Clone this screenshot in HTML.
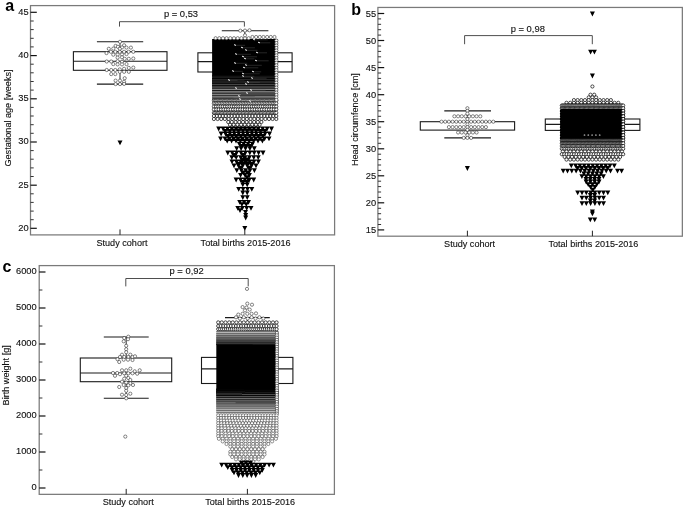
<!DOCTYPE html>
<html lang="en"><head><meta charset="utf-8"><title>Figure</title>
<style>html,body{margin:0;padding:0;background:#fff}svg{display:block;filter:blur(0.4px)}text{font-family:"Liberation Sans",Arial,Helvetica,sans-serif;fill:#111;stroke:#111;stroke-width:0.12px}text.b{stroke:none;fill:#000}</style>
</head><body>
<svg width="685" height="510" viewBox="0 0 685 510">
<rect width="685" height="510" fill="#fff"/>
<g id="panel-a">
<text x="5.2" y="11.4" font-size="16" text-anchor="start" font-weight="bold" class="b">a</text>
<text x="10.8" y="118" font-size="9.1" text-anchor="middle" transform="rotate(-90 10.8 118)">Gestational age [weeks]</text>
<path d="M244.8 30.8L244.8 52.8" stroke="#1a1a1a" stroke-width="0.9" fill="none"/>
<path d="M244.8 72L244.8 99.6" stroke="#1a1a1a" stroke-width="0.9" fill="none"/>
<path d="M221.8 30.8L268.4 30.8" stroke="#1a1a1a" stroke-width="1.1" fill="none"/>
<path d="M221.8 99.6L268.4 99.6" stroke="#1a1a1a" stroke-width="1.1" fill="none"/>
<rect x="197.9" y="52.8" width="94.2" height="19.2" fill="#fff" stroke="#1a1a1a" stroke-width="1.1"/>
<path d="M197.9 61.6L292.1 61.6" stroke="#1a1a1a" stroke-width="1.1" fill="none"/>
<path d="M120 41.7L120 51.7" stroke="#1a1a1a" stroke-width="0.9" fill="none"/>
<path d="M120 70.2L120 84.1" stroke="#1a1a1a" stroke-width="0.9" fill="none"/>
<path d="M96.9 41.7L143.2 41.7" stroke="#1a1a1a" stroke-width="1.1" fill="none"/>
<path d="M96.9 84.1L143.2 84.1" stroke="#1a1a1a" stroke-width="1.1" fill="none"/>
<rect x="73.4" y="51.7" width="93.6" height="18.6" fill="#fff" stroke="#1a1a1a" stroke-width="1.1"/>
<path d="M73.4 61.3L167 61.3" stroke="#1a1a1a" stroke-width="1.1" fill="none"/>
<g fill="#fff" stroke="#333" stroke-width="0.6">
<circle cx="120" cy="41.8" r="1.6"/><circle cx="115.6" cy="45.9" r="1.6"/><circle cx="124.1" cy="45.3" r="1.6"/><circle cx="117.9" cy="46.8" r="1.6"/><circle cx="122" cy="47.4" r="1.6"/><circle cx="126.5" cy="47.6" r="1.6"/><circle cx="130.9" cy="47.6" r="1.6"/><circle cx="108.8" cy="48.8" r="1.6"/><circle cx="113.3" cy="48.6" r="1.6"/><circle cx="119.8" cy="48.8" r="1.6"/><circle cx="106.5" cy="53.1" r="1.6"/><circle cx="110.9" cy="51.8" r="1.6"/><circle cx="115.3" cy="51.8" r="1.6"/><circle cx="119.8" cy="51.8" r="1.6"/><circle cx="124.1" cy="51.8" r="1.6"/><circle cx="128.6" cy="51.8" r="1.6"/><circle cx="133.3" cy="51.8" r="1.6"/><circle cx="113.3" cy="54.7" r="1.6"/><circle cx="117.6" cy="54.7" r="1.6"/><circle cx="122" cy="54.5" r="1.6"/><circle cx="126.5" cy="54.1" r="1.6"/><circle cx="117.6" cy="57.6" r="1.6"/><circle cx="122" cy="57.3" r="1.6"/><circle cx="124.7" cy="58.8" r="1.6"/><circle cx="128.8" cy="58.8" r="1.6"/><circle cx="133.3" cy="58.5" r="1.6"/><circle cx="106.7" cy="61.5" r="1.6"/><circle cx="111.2" cy="61.5" r="1.6"/><circle cx="117.6" cy="61.2" r="1.6"/><circle cx="122" cy="61.8" r="1.6"/><circle cx="113.3" cy="64.1" r="1.6"/><circle cx="117.6" cy="64.4" r="1.6"/><circle cx="122" cy="64.4" r="1.6"/><circle cx="126.5" cy="64.1" r="1.6"/><circle cx="133.3" cy="67.6" r="1.6"/><circle cx="128.8" cy="67.9" r="1.6"/><circle cx="106.7" cy="70" r="1.6"/><circle cx="111.2" cy="70" r="1.6"/><circle cx="115.3" cy="70" r="1.6"/><circle cx="119.8" cy="69.4" r="1.6"/><circle cx="124.1" cy="68.8" r="1.6"/><circle cx="119.8" cy="71.8" r="1.6"/><circle cx="124.1" cy="71.8" r="1.6"/><circle cx="128.8" cy="71.8" r="1.6"/><circle cx="111.2" cy="74.1" r="1.6"/><circle cx="115.3" cy="74.1" r="1.6"/><circle cx="124.7" cy="78.2" r="1.6"/><circle cx="115.6" cy="80.6" r="1.6"/><circle cx="120" cy="80.6" r="1.6"/><circle cx="124.1" cy="81.8" r="1.6"/><circle cx="115.6" cy="84.1" r="1.6"/><circle cx="120" cy="84.1" r="1.6"/><circle cx="124.1" cy="83.9" r="1.6"/>
</g>
<path d="M117.5 140.5h5l-2.5 4.8z" fill="#000"/>
<rect x="212.1" y="39.0" width="65.4" height="37.5" fill="#000"/>
<g><rect x="212.1" y="75.3" width="65.4" height="4.9" fill="#202020"/><rect x="212.1" y="75.3" width="65.4" height="1.1" fill="#000000"/><rect x="212.1" y="77.8" width="65.4" height="4.9" fill="#262626"/><rect x="212.1" y="77.8" width="65.4" height="1.1" fill="#010101"/><rect x="212.1" y="80.2" width="65.4" height="4.9" fill="#363636"/><rect x="212.1" y="80.2" width="65.4" height="1.1" fill="#010101"/><rect x="212.1" y="80.2" width="32.4" height="2.5" fill="#1e1e1e"/><rect x="212.1" y="82.7" width="65.4" height="4.9" fill="#454545"/><rect x="212.1" y="82.7" width="65.4" height="1.1" fill="#030303"/><rect x="212.1" y="85.2" width="65.4" height="4.9" fill="#555555"/><rect x="212.1" y="85.2" width="65.4" height="1.1" fill="#030303"/><rect x="212.1" y="87.6" width="65.4" height="4.9" fill="#838383"/><rect x="212.1" y="87.6" width="65.4" height="1.1" fill="#111111"/><rect x="212.1" y="90.1" width="65.4" height="4.9" fill="#919191"/><rect x="212.1" y="90.1" width="65.4" height="1.1" fill="#0f0f0f"/><rect x="212.1" y="92.6" width="65.4" height="4.9" fill="#828282"/><rect x="212.1" y="92.6" width="65.4" height="1.1" fill="#1a1a1a"/><rect x="240.8" y="92.6" width="36.7" height="2.5" fill="#474747"/><rect x="212.1" y="95.1" width="65.4" height="4.9" fill="#8a8a8a"/><rect x="212.1" y="95.1" width="65.4" height="1.1" fill="#2f2f2f"/><rect x="212.1" y="97.5" width="65.4" height="2.5" fill="#9e9e9e"/><rect x="212.1" y="97.5" width="65.4" height="1.1" fill="#3b3b3b"/><rect x="212.1" y="97.5" width="21.4" height="2.5" fill="#575757"/></g>
<g fill="#fff" stroke="#111" stroke-width="0.75">
<circle cx="213.9" cy="100.6" r="1.6"/><circle cx="215.2" cy="100.6" r="1.6"/><circle cx="216.4" cy="100.6" r="1.6"/><circle cx="217.7" cy="100.6" r="1.6"/><circle cx="219" cy="100.6" r="1.6"/><circle cx="220.3" cy="100.6" r="1.6"/><circle cx="221.5" cy="100.6" r="1.6"/><circle cx="222.8" cy="100.6" r="1.6"/><circle cx="224.1" cy="100.6" r="1.6"/><circle cx="225.4" cy="100.6" r="1.6"/><circle cx="226.6" cy="100.6" r="1.6"/><circle cx="227.9" cy="100.6" r="1.6"/><circle cx="229.2" cy="100.6" r="1.6"/><circle cx="230.5" cy="100.6" r="1.6"/><circle cx="231.7" cy="100.6" r="1.6"/><circle cx="233" cy="100.6" r="1.6"/><circle cx="234.3" cy="100.6" r="1.6"/><circle cx="235.5" cy="100.6" r="1.6"/><circle cx="236.8" cy="100.6" r="1.6"/><circle cx="238.1" cy="100.6" r="1.6"/><circle cx="239.4" cy="100.6" r="1.6"/><circle cx="240.6" cy="100.6" r="1.6"/><circle cx="241.9" cy="100.6" r="1.6"/><circle cx="243.2" cy="100.6" r="1.6"/><circle cx="244.5" cy="100.6" r="1.6"/><circle cx="245.7" cy="100.6" r="1.6"/><circle cx="247" cy="100.6" r="1.6"/><circle cx="248.3" cy="100.6" r="1.6"/><circle cx="249.6" cy="100.6" r="1.6"/><circle cx="250.8" cy="100.6" r="1.6"/><circle cx="252.1" cy="100.6" r="1.6"/><circle cx="253.4" cy="100.6" r="1.6"/><circle cx="254.7" cy="100.6" r="1.6"/><circle cx="255.9" cy="100.6" r="1.6"/><circle cx="257.2" cy="100.6" r="1.6"/><circle cx="258.5" cy="100.6" r="1.6"/><circle cx="259.7" cy="100.6" r="1.6"/><circle cx="261" cy="100.6" r="1.6"/><circle cx="262.3" cy="100.6" r="1.6"/><circle cx="263.6" cy="100.6" r="1.6"/><circle cx="264.8" cy="100.6" r="1.6"/><circle cx="266.1" cy="100.6" r="1.6"/><circle cx="267.4" cy="100.6" r="1.6"/><circle cx="268.7" cy="100.6" r="1.6"/><circle cx="269.9" cy="100.6" r="1.6"/><circle cx="271.2" cy="100.6" r="1.6"/><circle cx="272.5" cy="100.6" r="1.6"/><circle cx="273.8" cy="100.6" r="1.6"/><circle cx="275" cy="100.6" r="1.6"/><circle cx="276.3" cy="100.6" r="1.6"/><circle cx="213.9" cy="103.4" r="1.6"/><circle cx="215.5" cy="103.4" r="1.6"/><circle cx="217.1" cy="103.4" r="1.6"/><circle cx="218.7" cy="103.4" r="1.6"/><circle cx="220.3" cy="103.4" r="1.6"/><circle cx="221.9" cy="103.4" r="1.6"/><circle cx="223.5" cy="103.4" r="1.6"/><circle cx="225.1" cy="103.4" r="1.6"/><circle cx="226.7" cy="103.4" r="1.6"/><circle cx="228.3" cy="103.4" r="1.6"/><circle cx="229.9" cy="103.4" r="1.6"/><circle cx="231.5" cy="103.4" r="1.6"/><circle cx="233.1" cy="103.4" r="1.6"/><circle cx="234.7" cy="103.4" r="1.6"/><circle cx="236.3" cy="103.4" r="1.6"/><circle cx="237.9" cy="103.4" r="1.6"/><circle cx="239.5" cy="103.4" r="1.6"/><circle cx="241.1" cy="103.4" r="1.6"/><circle cx="242.7" cy="103.4" r="1.6"/><circle cx="244.3" cy="103.4" r="1.6"/><circle cx="245.9" cy="103.4" r="1.6"/><circle cx="247.5" cy="103.4" r="1.6"/><circle cx="249.1" cy="103.4" r="1.6"/><circle cx="250.7" cy="103.4" r="1.6"/><circle cx="252.3" cy="103.4" r="1.6"/><circle cx="253.9" cy="103.4" r="1.6"/><circle cx="255.5" cy="103.4" r="1.6"/><circle cx="257.1" cy="103.4" r="1.6"/><circle cx="258.7" cy="103.4" r="1.6"/><circle cx="260.3" cy="103.4" r="1.6"/><circle cx="261.9" cy="103.4" r="1.6"/><circle cx="263.5" cy="103.4" r="1.6"/><circle cx="265.1" cy="103.4" r="1.6"/><circle cx="266.7" cy="103.4" r="1.6"/><circle cx="268.3" cy="103.4" r="1.6"/><circle cx="269.9" cy="103.4" r="1.6"/><circle cx="271.5" cy="103.4" r="1.6"/><circle cx="273.1" cy="103.4" r="1.6"/><circle cx="274.7" cy="103.4" r="1.6"/><circle cx="276.3" cy="103.4" r="1.6"/><circle cx="213.9" cy="106.6" r="1.6"/><circle cx="216.1" cy="106.6" r="1.6"/><circle cx="218.4" cy="106.6" r="1.6"/><circle cx="220.6" cy="106.6" r="1.6"/><circle cx="222.8" cy="106.6" r="1.6"/><circle cx="225" cy="106.6" r="1.6"/><circle cx="227.3" cy="106.6" r="1.6"/><circle cx="229.5" cy="106.6" r="1.6"/><circle cx="231.7" cy="106.6" r="1.6"/><circle cx="234" cy="106.6" r="1.6"/><circle cx="236.2" cy="106.6" r="1.6"/><circle cx="238.4" cy="106.6" r="1.6"/><circle cx="240.6" cy="106.6" r="1.6"/><circle cx="242.9" cy="106.6" r="1.6"/><circle cx="245.1" cy="106.6" r="1.6"/><circle cx="247.3" cy="106.6" r="1.6"/><circle cx="249.6" cy="106.6" r="1.6"/><circle cx="251.8" cy="106.6" r="1.6"/><circle cx="254" cy="106.6" r="1.6"/><circle cx="256.2" cy="106.6" r="1.6"/><circle cx="258.5" cy="106.6" r="1.6"/><circle cx="260.7" cy="106.6" r="1.6"/><circle cx="262.9" cy="106.6" r="1.6"/><circle cx="265.2" cy="106.6" r="1.6"/><circle cx="267.4" cy="106.6" r="1.6"/><circle cx="269.6" cy="106.6" r="1.6"/><circle cx="271.8" cy="106.6" r="1.6"/><circle cx="274.1" cy="106.6" r="1.6"/><circle cx="276.3" cy="106.6" r="1.6"/><circle cx="213.9" cy="109.5" r="1.6"/><circle cx="216.3" cy="109.5" r="1.6"/><circle cx="218.7" cy="109.5" r="1.6"/><circle cx="221.1" cy="109.5" r="1.6"/><circle cx="223.5" cy="109.5" r="1.6"/><circle cx="225.9" cy="109.5" r="1.6"/><circle cx="228.3" cy="109.5" r="1.6"/><circle cx="230.7" cy="109.5" r="1.6"/><circle cx="233.1" cy="109.5" r="1.6"/><circle cx="235.5" cy="109.5" r="1.6"/><circle cx="237.9" cy="109.5" r="1.6"/><circle cx="240.3" cy="109.5" r="1.6"/><circle cx="242.7" cy="109.5" r="1.6"/><circle cx="245.1" cy="109.5" r="1.6"/><circle cx="247.5" cy="109.5" r="1.6"/><circle cx="249.9" cy="109.5" r="1.6"/><circle cx="252.3" cy="109.5" r="1.6"/><circle cx="254.7" cy="109.5" r="1.6"/><circle cx="257.1" cy="109.5" r="1.6"/><circle cx="259.5" cy="109.5" r="1.6"/><circle cx="261.9" cy="109.5" r="1.6"/><circle cx="264.3" cy="109.5" r="1.6"/><circle cx="266.7" cy="109.5" r="1.6"/><circle cx="269.1" cy="109.5" r="1.6"/><circle cx="271.5" cy="109.5" r="1.6"/><circle cx="273.9" cy="109.5" r="1.6"/><circle cx="276.3" cy="109.5" r="1.6"/><circle cx="213.9" cy="112.8" r="1.6"/><circle cx="215.3" cy="112.8" r="1.6"/><circle cx="216.7" cy="112.8" r="1.6"/><circle cx="218.1" cy="112.8" r="1.6"/><circle cx="219.4" cy="112.8" r="1.6"/><circle cx="220.8" cy="112.8" r="1.6"/><circle cx="222.2" cy="112.8" r="1.6"/><circle cx="223.6" cy="112.8" r="1.6"/><circle cx="225" cy="112.8" r="1.6"/><circle cx="226.4" cy="112.8" r="1.6"/><circle cx="227.8" cy="112.8" r="1.6"/><circle cx="229.2" cy="112.8" r="1.6"/><circle cx="230.5" cy="112.8" r="1.6"/><circle cx="231.9" cy="112.8" r="1.6"/><circle cx="233.3" cy="112.8" r="1.6"/><circle cx="234.7" cy="112.8" r="1.6"/><circle cx="236.1" cy="112.8" r="1.6"/><circle cx="237.5" cy="112.8" r="1.6"/><circle cx="238.9" cy="112.8" r="1.6"/><circle cx="240.2" cy="112.8" r="1.6"/><circle cx="241.6" cy="112.8" r="1.6"/><circle cx="243" cy="112.8" r="1.6"/><circle cx="244.4" cy="112.8" r="1.6"/><circle cx="245.8" cy="112.8" r="1.6"/><circle cx="247.2" cy="112.8" r="1.6"/><circle cx="248.6" cy="112.8" r="1.6"/><circle cx="250" cy="112.8" r="1.6"/><circle cx="251.3" cy="112.8" r="1.6"/><circle cx="252.7" cy="112.8" r="1.6"/><circle cx="254.1" cy="112.8" r="1.6"/><circle cx="255.5" cy="112.8" r="1.6"/><circle cx="256.9" cy="112.8" r="1.6"/><circle cx="258.3" cy="112.8" r="1.6"/><circle cx="259.7" cy="112.8" r="1.6"/><circle cx="261" cy="112.8" r="1.6"/><circle cx="262.4" cy="112.8" r="1.6"/><circle cx="263.8" cy="112.8" r="1.6"/><circle cx="265.2" cy="112.8" r="1.6"/><circle cx="266.6" cy="112.8" r="1.6"/><circle cx="268" cy="112.8" r="1.6"/><circle cx="269.4" cy="112.8" r="1.6"/><circle cx="270.8" cy="112.8" r="1.6"/><circle cx="272.1" cy="112.8" r="1.6"/><circle cx="273.5" cy="112.8" r="1.6"/><circle cx="274.9" cy="112.8" r="1.6"/><circle cx="276.3" cy="112.8" r="1.6"/><circle cx="213.9" cy="116" r="1.6"/><circle cx="216.9" cy="116" r="1.6"/><circle cx="219.8" cy="116" r="1.6"/><circle cx="222.8" cy="116" r="1.6"/><circle cx="225.8" cy="116" r="1.6"/><circle cx="228.8" cy="116" r="1.6"/><circle cx="231.7" cy="116" r="1.6"/><circle cx="234.7" cy="116" r="1.6"/><circle cx="237.7" cy="116" r="1.6"/><circle cx="240.6" cy="116" r="1.6"/><circle cx="243.6" cy="116" r="1.6"/><circle cx="246.6" cy="116" r="1.6"/><circle cx="249.6" cy="116" r="1.6"/><circle cx="252.5" cy="116" r="1.6"/><circle cx="255.5" cy="116" r="1.6"/><circle cx="258.5" cy="116" r="1.6"/><circle cx="261.4" cy="116" r="1.6"/><circle cx="264.4" cy="116" r="1.6"/><circle cx="267.4" cy="116" r="1.6"/><circle cx="270.4" cy="116" r="1.6"/><circle cx="273.3" cy="116" r="1.6"/><circle cx="276.3" cy="116" r="1.6"/><circle cx="213.9" cy="119" r="1.6"/><circle cx="217.6" cy="119" r="1.6"/><circle cx="221.2" cy="119" r="1.6"/><circle cx="224.9" cy="119" r="1.6"/><circle cx="228.6" cy="119" r="1.6"/><circle cx="232.3" cy="119" r="1.6"/><circle cx="235.9" cy="119" r="1.6"/><circle cx="239.6" cy="119" r="1.6"/><circle cx="243.3" cy="119" r="1.6"/><circle cx="246.9" cy="119" r="1.6"/><circle cx="250.6" cy="119" r="1.6"/><circle cx="254.3" cy="119" r="1.6"/><circle cx="257.9" cy="119" r="1.6"/><circle cx="261.6" cy="119" r="1.6"/><circle cx="265.3" cy="119" r="1.6"/><circle cx="269" cy="119" r="1.6"/><circle cx="272.6" cy="119" r="1.6"/><circle cx="276.3" cy="119" r="1.6"/><circle cx="228.2" cy="122" r="1.6"/><circle cx="231.8" cy="122" r="1.6"/><circle cx="235.6" cy="122" r="1.6"/><circle cx="239.2" cy="122" r="1.6"/><circle cx="243" cy="122" r="1.6"/><circle cx="246.7" cy="122" r="1.6"/><circle cx="250.4" cy="122" r="1.6"/><circle cx="254.1" cy="122" r="1.6"/><circle cx="257.8" cy="122" r="1.6"/><circle cx="261.4" cy="122" r="1.6"/><circle cx="230" cy="124.8" r="1.6"/><circle cx="233.7" cy="124.8" r="1.6"/><circle cx="237.4" cy="124.8" r="1.6"/><circle cx="241.1" cy="124.8" r="1.6"/><circle cx="244.8" cy="124.8" r="1.6"/><circle cx="248.5" cy="124.8" r="1.6"/><circle cx="252.2" cy="124.8" r="1.6"/><circle cx="255.9" cy="124.8" r="1.6"/><circle cx="259.6" cy="124.8" r="1.6"/><circle cx="231.9" cy="127.3" r="1.6"/><circle cx="235.6" cy="127.3" r="1.6"/><circle cx="239.3" cy="127.3" r="1.6"/><circle cx="243" cy="127.3" r="1.6"/><circle cx="246.7" cy="127.3" r="1.6"/><circle cx="250.4" cy="127.3" r="1.6"/><circle cx="254.1" cy="127.3" r="1.6"/><circle cx="257.8" cy="127.3" r="1.6"/>
</g>
<g fill="#fff" stroke="#333" stroke-width="0.6">
<circle cx="276.4" cy="40.6" r="1.6"/><circle cx="276.4" cy="43.1" r="1.6"/><circle cx="276.4" cy="45.5" r="1.6"/><circle cx="276.4" cy="48" r="1.6"/><circle cx="276.4" cy="50.5" r="1.6"/><circle cx="276.4" cy="53" r="1.6"/><circle cx="276.4" cy="55.4" r="1.6"/><circle cx="276.4" cy="57.9" r="1.6"/><circle cx="276.4" cy="60.4" r="1.6"/><circle cx="276.4" cy="62.8" r="1.6"/><circle cx="276.4" cy="65.3" r="1.6"/><circle cx="276.4" cy="67.8" r="1.6"/><circle cx="276.4" cy="70.2" r="1.6"/><circle cx="276.4" cy="72.7" r="1.6"/><circle cx="276.4" cy="75.2" r="1.6"/><circle cx="276.4" cy="77.7" r="1.6"/><circle cx="276.4" cy="80.1" r="1.6"/><circle cx="276.4" cy="82.6" r="1.6"/><circle cx="276.4" cy="85.1" r="1.6"/><circle cx="276.4" cy="87.5" r="1.6"/><circle cx="276.4" cy="90" r="1.6"/><circle cx="276.4" cy="92.5" r="1.6"/><circle cx="276.4" cy="94.9" r="1.6"/><circle cx="276.4" cy="97.4" r="1.6"/><circle cx="276.4" cy="99.9" r="1.6"/>
</g>
<g fill="#fff" stroke="#333" stroke-width="0.6">
<circle cx="215.6" cy="38.2" r="1.6"/><circle cx="219.3" cy="38.2" r="1.6"/><circle cx="223" cy="38.2" r="1.6"/><circle cx="226.6" cy="38.2" r="1.6"/><circle cx="230.3" cy="38.2" r="1.6"/><circle cx="234" cy="38.2" r="1.6"/><circle cx="237.7" cy="38.2" r="1.6"/><circle cx="241.4" cy="38.2" r="1.6"/><circle cx="245" cy="38.2" r="1.6"/><circle cx="248.7" cy="38.2" r="1.6"/><circle cx="252.4" cy="37" r="1.6"/><circle cx="256.1" cy="37" r="1.6"/><circle cx="259.8" cy="37" r="1.6"/><circle cx="263.4" cy="37" r="1.6"/><circle cx="267.1" cy="37" r="1.6"/><circle cx="270.8" cy="37" r="1.6"/><circle cx="274.5" cy="37" r="1.6"/><circle cx="245" cy="35.3" r="1.6"/><circle cx="240.3" cy="30.7" r="1.6"/><circle cx="245" cy="30.6" r="1.6"/><circle cx="249.5" cy="30.3" r="1.6"/>
</g>
<g stroke="#4a4a4a" stroke-width="0.5"><path d="M255 39.8h12.8"/><path d="M260 42.8h10.3"/><path d="M236 45.3h9.1"/><path d="M243 47.8h11.9"/><path d="M247 50.3h10.5"/><path d="M258 52.8h9"/><path d="M237 54.3h13.9"/><path d="M244 56.8h13"/><path d="M246 58.8h8.4"/><path d="M257 60.8h11.7"/><path d="M236 63.3h11.3"/><path d="M247 65.3h14.8"/><path d="M245 67.8h13.3"/><path d="M234 71.3h8.9"/><path d="M244 73.8h15.8"/><path d="M254 71.8h7.2"/><path d="M244 76.3h10.2"/><path d="M253 78.3h13.6"/><path d="M230 80.3h7.5"/><path d="M249 82.3h10.9"/><path d="M247 84.3h6.4"/><path d="M237 88.3h12.7"/><path d="M252 90.3h13.6"/><path d="M248 93.3h11.7"/><path d="M240 96.3h14.8"/><path d="M241 99.3h9.1"/><path d="M251 101.3h13"/></g>
<g fill="#fff" stroke="none"><ellipse cx="254" cy="39.5" rx="1.1" ry="0.6" transform="rotate(25 254 39.5)"/><ellipse cx="259" cy="42.5" rx="1.1" ry="0.6" transform="rotate(25 259 42.5)"/><ellipse cx="235" cy="45" rx="1.1" ry="0.6" transform="rotate(25 235 45)"/><ellipse cx="242" cy="47.5" rx="1.1" ry="0.6" transform="rotate(25 242 47.5)"/><ellipse cx="246" cy="50" rx="1.1" ry="0.6" transform="rotate(25 246 50)"/><ellipse cx="257" cy="52.5" rx="1.1" ry="0.6" transform="rotate(25 257 52.5)"/><ellipse cx="236" cy="54" rx="1.1" ry="0.6" transform="rotate(25 236 54)"/><ellipse cx="243" cy="56.5" rx="1.1" ry="0.6" transform="rotate(25 243 56.5)"/><ellipse cx="245" cy="58.5" rx="1.1" ry="0.6" transform="rotate(25 245 58.5)"/><ellipse cx="256" cy="60.5" rx="1.1" ry="0.6" transform="rotate(25 256 60.5)"/><ellipse cx="235" cy="63" rx="1.1" ry="0.6" transform="rotate(25 235 63)"/><ellipse cx="246" cy="65" rx="1.1" ry="0.6" transform="rotate(25 246 65)"/><ellipse cx="244" cy="67.5" rx="1.1" ry="0.6" transform="rotate(25 244 67.5)"/><ellipse cx="233" cy="71" rx="1.1" ry="0.6" transform="rotate(25 233 71)"/><ellipse cx="243" cy="73.5" rx="1.1" ry="0.6" transform="rotate(25 243 73.5)"/><ellipse cx="253" cy="71.5" rx="1.1" ry="0.6" transform="rotate(25 253 71.5)"/><ellipse cx="243" cy="76" rx="1.1" ry="0.6" transform="rotate(25 243 76)"/><ellipse cx="252" cy="78" rx="1.1" ry="0.6" transform="rotate(25 252 78)"/><ellipse cx="229" cy="80" rx="1.1" ry="0.6" transform="rotate(25 229 80)"/><ellipse cx="248" cy="82" rx="1.1" ry="0.6" transform="rotate(25 248 82)"/><ellipse cx="246" cy="84" rx="1.1" ry="0.6" transform="rotate(25 246 84)"/><ellipse cx="236" cy="88" rx="1.1" ry="0.6" transform="rotate(25 236 88)"/><ellipse cx="251" cy="90" rx="1.1" ry="0.6" transform="rotate(25 251 90)"/><ellipse cx="247" cy="93" rx="1.1" ry="0.6" transform="rotate(25 247 93)"/><ellipse cx="239" cy="96" rx="1.1" ry="0.6" transform="rotate(25 239 96)"/><ellipse cx="240" cy="99" rx="1.1" ry="0.6" transform="rotate(25 240 99)"/><ellipse cx="250" cy="101" rx="1.1" ry="0.6" transform="rotate(25 250 101)"/></g>
<path d="M216.2 126.6h5l-2.5 4.8zM220.6 126.6h5l-2.5 4.8zM225 126.6h5l-2.5 4.8zM229.4 126.6h5l-2.5 4.8zM233.8 126.6h5l-2.5 4.8zM238.2 126.6h5l-2.5 4.8zM242.6 126.6h5l-2.5 4.8zM247 126.6h5l-2.5 4.8zM251.4 126.6h5l-2.5 4.8zM255.8 126.6h5l-2.5 4.8zM260.2 126.6h5l-2.5 4.8zM264.6 126.6h5l-2.5 4.8zM269 126.6h5l-2.5 4.8zM222.8 128.9h5l-2.5 4.8zM227.2 128.9h5l-2.5 4.8zM231.6 128.9h5l-2.5 4.8zM236 128.9h5l-2.5 4.8zM240.4 128.9h5l-2.5 4.8zM244.8 128.9h5l-2.5 4.8zM249.2 128.9h5l-2.5 4.8zM253.6 128.9h5l-2.5 4.8zM258 128.9h5l-2.5 4.8zM262.4 128.9h5l-2.5 4.8zM218.6 131.6h5l-2.5 4.8zM223 131.6h5l-2.5 4.8zM227.4 131.6h5l-2.5 4.8zM231.8 131.6h5l-2.5 4.8zM236.2 131.6h5l-2.5 4.8zM240.6 131.6h5l-2.5 4.8zM245 131.6h5l-2.5 4.8zM249.4 131.6h5l-2.5 4.8zM253.8 131.6h5l-2.5 4.8zM258.2 131.6h5l-2.5 4.8zM262.6 131.6h5l-2.5 4.8zM267 131.6h5l-2.5 4.8zM225.2 133.9h5l-2.5 4.8zM229.6 133.9h5l-2.5 4.8zM233.9 133.9h5l-2.5 4.8zM238.3 133.9h5l-2.5 4.8zM242.8 133.9h5l-2.5 4.8zM247.2 133.9h5l-2.5 4.8zM251.6 133.9h5l-2.5 4.8zM255.9 133.9h5l-2.5 4.8zM260.4 133.9h5l-2.5 4.8zM218.1 136.4h5l-2.5 4.8zM222.5 136.4h5l-2.5 4.8zM226.9 136.4h5l-2.5 4.8zM231.3 136.4h5l-2.5 4.8zM235.7 136.4h5l-2.5 4.8zM240.1 136.4h5l-2.5 4.8zM244.5 136.4h5l-2.5 4.8zM248.9 136.4h5l-2.5 4.8zM253.3 136.4h5l-2.5 4.8zM257.7 136.4h5l-2.5 4.8zM262.1 136.4h5l-2.5 4.8zM266.5 136.4h5l-2.5 4.8zM224.7 138.7h5l-2.5 4.8zM229.1 138.7h5l-2.5 4.8zM233.5 138.7h5l-2.5 4.8zM237.9 138.7h5l-2.5 4.8zM242.3 138.7h5l-2.5 4.8zM246.7 138.7h5l-2.5 4.8zM251.1 138.7h5l-2.5 4.8zM255.5 138.7h5l-2.5 4.8zM259.9 138.7h5l-2.5 4.8zM236.8 141.8h5l-2.5 4.8zM241.2 141.8h5l-2.5 4.8zM245.6 141.8h5l-2.5 4.8zM250 141.8h5l-2.5 4.8zM239 144.1h5l-2.5 4.8zM243.4 144.1h5l-2.5 4.8zM247.8 144.1h5l-2.5 4.8zM234.2 146.2h5l-2.5 4.8zM238.6 146.2h5l-2.5 4.8zM243 146.2h5l-2.5 4.8zM247.4 146.2h5l-2.5 4.8zM251.8 146.2h5l-2.5 4.8zM225.3 150.6h5l-2.5 4.8zM229.7 150.6h5l-2.5 4.8zM234.1 150.6h5l-2.5 4.8zM238.5 150.6h5l-2.5 4.8zM242.9 150.6h5l-2.5 4.8zM247.3 150.6h5l-2.5 4.8zM251.7 150.6h5l-2.5 4.8zM256.1 150.6h5l-2.5 4.8zM260.5 150.6h5l-2.5 4.8zM231.9 152.9h5l-2.5 4.8zM240.7 152.9h5l-2.5 4.8zM229.3 155.3h5l-2.5 4.8zM233.7 155.3h5l-2.5 4.8zM238.1 155.3h5l-2.5 4.8zM242.5 155.3h5l-2.5 4.8zM246.9 155.3h5l-2.5 4.8zM251.3 155.3h5l-2.5 4.8zM255.7 155.3h5l-2.5 4.8zM240.3 157.6h5l-2.5 4.8zM244.7 157.6h5l-2.5 4.8zM229.5 159.5h5l-2.5 4.8zM233.9 159.5h5l-2.5 4.8zM238.3 159.5h5l-2.5 4.8zM242.7 159.5h5l-2.5 4.8zM247.1 159.5h5l-2.5 4.8zM251.5 159.5h5l-2.5 4.8zM255.9 159.5h5l-2.5 4.8zM236.1 161.8h5l-2.5 4.8zM240.5 161.8h5l-2.5 4.8zM244.8 161.8h5l-2.5 4.8zM249.2 161.8h5l-2.5 4.8zM231.5 163.5h5l-2.5 4.8zM235.9 163.5h5l-2.5 4.8zM240.3 163.5h5l-2.5 4.8zM244.7 163.5h5l-2.5 4.8zM249.1 163.5h5l-2.5 4.8zM253.5 163.5h5l-2.5 4.8zM238.1 165.8h5l-2.5 4.8zM246.9 165.8h5l-2.5 4.8zM234.3 168.2h5l-2.5 4.8zM238.8 168.2h5l-2.5 4.8zM243.2 168.2h5l-2.5 4.8zM247.5 168.2h5l-2.5 4.8zM251.9 168.2h5l-2.5 4.8zM240.9 170.5h5l-2.5 4.8zM245.3 170.5h5l-2.5 4.8zM238.1 173h5l-2.5 4.8zM242.5 173h5l-2.5 4.8zM246.9 173h5l-2.5 4.8zM244.7 175.3h5l-2.5 4.8zM233.6 177.6h5l-2.5 4.8zM238 177.6h5l-2.5 4.8zM242.4 177.6h5l-2.5 4.8zM246.8 177.6h5l-2.5 4.8zM251.2 177.6h5l-2.5 4.8zM240.2 179.9h5l-2.5 4.8zM244.6 179.9h5l-2.5 4.8zM240.3 182.4h5l-2.5 4.8zM244.7 182.4h5l-2.5 4.8zM236.2 187h5l-2.5 4.8zM240.6 187h5l-2.5 4.8zM245 187h5l-2.5 4.8zM249.3 187h5l-2.5 4.8zM240.3 190.6h5l-2.5 4.8zM244.7 190.6h5l-2.5 4.8zM240.3 195.3h5l-2.5 4.8zM244.7 195.3h5l-2.5 4.8zM237.2 200h5l-2.5 4.8zM241.6 200h5l-2.5 4.8zM246 200h5l-2.5 4.8zM239.4 202.3h5l-2.5 4.8zM243.8 202.3h5l-2.5 4.8zM235.3 205.9h5l-2.5 4.8zM239.8 205.9h5l-2.5 4.8zM244.2 205.9h5l-2.5 4.8zM248.5 205.9h5l-2.5 4.8zM237.5 208.2h5l-2.5 4.8zM243 210h5l-2.5 4.8zM243.2 213h5l-2.5 4.8zM243.2 215.6h5l-2.5 4.8zM242.3 226h5l-2.5 4.8z" fill="#000"/>
<path d="M119.5 26.6V21.7H244.4V26.6" fill="none" stroke="#3a3a3a" stroke-width="0.9"/>
<text x="181" y="17.2" font-size="9.4" text-anchor="middle">p = 0,53</text>
<rect x="30.5" y="5.6" width="304.1" height="229.3" fill="none" stroke="#7a7a7a" stroke-width="1.25"/>
<path d="M30.5 219.7L33.7 219.7" stroke="#333" stroke-width="1.0" fill="none"/>
<path d="M30.5 211.1L33.7 211.1" stroke="#333" stroke-width="1.0" fill="none"/>
<path d="M30.5 202.4L33.7 202.4" stroke="#333" stroke-width="1.0" fill="none"/>
<path d="M30.5 193.8L33.7 193.8" stroke="#333" stroke-width="1.0" fill="none"/>
<path d="M30.5 176.5L33.7 176.5" stroke="#333" stroke-width="1.0" fill="none"/>
<path d="M30.5 167.9L33.7 167.9" stroke="#333" stroke-width="1.0" fill="none"/>
<path d="M30.5 159.2L33.7 159.2" stroke="#333" stroke-width="1.0" fill="none"/>
<path d="M30.5 150.6L33.7 150.6" stroke="#333" stroke-width="1.0" fill="none"/>
<path d="M30.5 133.3L33.7 133.3" stroke="#333" stroke-width="1.0" fill="none"/>
<path d="M30.5 124.7L33.7 124.7" stroke="#333" stroke-width="1.0" fill="none"/>
<path d="M30.5 116L33.7 116" stroke="#333" stroke-width="1.0" fill="none"/>
<path d="M30.5 107.4L33.7 107.4" stroke="#333" stroke-width="1.0" fill="none"/>
<path d="M30.5 90.1L33.7 90.1" stroke="#333" stroke-width="1.0" fill="none"/>
<path d="M30.5 81.5L33.7 81.5" stroke="#333" stroke-width="1.0" fill="none"/>
<path d="M30.5 72.8L33.7 72.8" stroke="#333" stroke-width="1.0" fill="none"/>
<path d="M30.5 64.2L33.7 64.2" stroke="#333" stroke-width="1.0" fill="none"/>
<path d="M30.5 46.9L33.7 46.9" stroke="#333" stroke-width="1.0" fill="none"/>
<path d="M30.5 38.3L33.7 38.3" stroke="#333" stroke-width="1.0" fill="none"/>
<path d="M30.5 29.6L33.7 29.6" stroke="#333" stroke-width="1.0" fill="none"/>
<path d="M30.5 21L33.7 21" stroke="#333" stroke-width="1.0" fill="none"/>
<path d="M30.5 12.3L36.8 12.3" stroke="#111" stroke-width="1.2" fill="none"/>
<text x="28.6" y="14.6" font-size="9.3" text-anchor="end">45</text>
<path d="M30.5 55.6L36.8 55.6" stroke="#111" stroke-width="1.2" fill="none"/>
<text x="28.6" y="57.9" font-size="9.3" text-anchor="end">40</text>
<path d="M30.5 98.8L36.8 98.8" stroke="#111" stroke-width="1.2" fill="none"/>
<text x="28.6" y="101" font-size="9.3" text-anchor="end">35</text>
<path d="M30.5 142L36.8 142" stroke="#111" stroke-width="1.2" fill="none"/>
<text x="28.6" y="144.3" font-size="9.3" text-anchor="end">30</text>
<path d="M30.5 185.2L36.8 185.2" stroke="#111" stroke-width="1.2" fill="none"/>
<text x="28.6" y="187.5" font-size="9.3" text-anchor="end">25</text>
<path d="M30.5 228.3L36.8 228.3" stroke="#111" stroke-width="1.2" fill="none"/>
<text x="28.6" y="230.7" font-size="9.3" text-anchor="end">20</text>
<path d="M120 234.9L120 229.4" stroke="#222" stroke-width="1" fill="none"/>
<path d="M244.8 234.9L244.8 229.4" stroke="#222" stroke-width="1" fill="none"/>
<text x="122" y="245.5" font-size="9.1" text-anchor="middle">Study cohort</text>
<text x="245.6" y="245.5" font-size="9.1" text-anchor="middle">Total births 2015-2016</text>
</g>
<g id="panel-b">
<text x="351.2" y="14.7" font-size="16" text-anchor="start" font-weight="bold" class="b">b</text>
<text x="358.3" y="119.6" font-size="9.1" text-anchor="middle" transform="rotate(-90 358.3 119.6)">Head circumfence [cm]</text>
<path d="M592.4 102.8L592.4 119" stroke="#1a1a1a" stroke-width="0.9" fill="none"/>
<path d="M592.4 130.4L592.4 146" stroke="#1a1a1a" stroke-width="0.9" fill="none"/>
<path d="M569 102.8L616 102.8" stroke="#1a1a1a" stroke-width="1.1" fill="none"/>
<path d="M569 146L616 146" stroke="#1a1a1a" stroke-width="1.1" fill="none"/>
<rect x="545.3" y="119" width="94.6" height="11.4" fill="#fff" stroke="#1a1a1a" stroke-width="1.1"/>
<path d="M545.3 124.4L639.9 124.4" stroke="#1a1a1a" stroke-width="1.1" fill="none"/>
<path d="M467.4 110.9L467.4 121.7" stroke="#1a1a1a" stroke-width="0.9" fill="none"/>
<path d="M467.4 130.1L467.4 137.9" stroke="#1a1a1a" stroke-width="0.9" fill="none"/>
<path d="M444.3 110.9L491 110.9" stroke="#1a1a1a" stroke-width="1.1" fill="none"/>
<path d="M444.3 137.9L491 137.9" stroke="#1a1a1a" stroke-width="1.1" fill="none"/>
<rect x="420.3" y="121.7" width="94.3" height="8.4" fill="#fff" stroke="#1a1a1a" stroke-width="1.1"/>
<g fill="#fff" stroke="#333" stroke-width="0.6">
<circle cx="467.4" cy="108.2" r="1.6"/><circle cx="467.4" cy="110.9" r="1.6"/><circle cx="454.4" cy="116.3" r="1.6"/><circle cx="458.1" cy="116.3" r="1.6"/><circle cx="461.8" cy="116.3" r="1.6"/><circle cx="465.6" cy="116.3" r="1.6"/><circle cx="469.2" cy="116.3" r="1.6"/><circle cx="472.9" cy="116.3" r="1.6"/><circle cx="476.6" cy="116.3" r="1.6"/><circle cx="480.3" cy="116.3" r="1.6"/><circle cx="441.5" cy="121.7" r="1.6"/><circle cx="445.2" cy="121.7" r="1.6"/><circle cx="448.9" cy="121.7" r="1.6"/><circle cx="452.6" cy="121.7" r="1.6"/><circle cx="456.3" cy="121.7" r="1.6"/><circle cx="460" cy="121.7" r="1.6"/><circle cx="463.7" cy="121.7" r="1.6"/><circle cx="467.4" cy="121.7" r="1.6"/><circle cx="471.1" cy="121.7" r="1.6"/><circle cx="474.8" cy="121.7" r="1.6"/><circle cx="478.5" cy="121.7" r="1.6"/><circle cx="482.2" cy="121.7" r="1.6"/><circle cx="485.9" cy="121.7" r="1.6"/><circle cx="489.6" cy="121.7" r="1.6"/><circle cx="493.3" cy="121.7" r="1.6"/><circle cx="467.4" cy="124.4" r="1.6"/><circle cx="448.9" cy="127.1" r="1.6"/><circle cx="452.6" cy="127.1" r="1.6"/><circle cx="456.3" cy="127.1" r="1.6"/><circle cx="460" cy="127.1" r="1.6"/><circle cx="463.7" cy="127.1" r="1.6"/><circle cx="467.4" cy="127.1" r="1.6"/><circle cx="471.1" cy="127.1" r="1.6"/><circle cx="474.8" cy="127.1" r="1.6"/><circle cx="478.5" cy="127.1" r="1.6"/><circle cx="482.2" cy="127.1" r="1.6"/><circle cx="485.9" cy="127.1" r="1.6"/><circle cx="467.4" cy="129.8" r="1.6"/><circle cx="458.1" cy="132.5" r="1.6"/><circle cx="461.8" cy="132.5" r="1.6"/><circle cx="465.5" cy="132.5" r="1.6"/><circle cx="469.2" cy="132.5" r="1.6"/><circle cx="472.9" cy="132.5" r="1.6"/><circle cx="476.6" cy="132.5" r="1.6"/><circle cx="467.4" cy="135.2" r="1.6"/><circle cx="463.7" cy="137.9" r="1.6"/><circle cx="467.4" cy="137.9" r="1.6"/><circle cx="471.1" cy="137.9" r="1.6"/><circle cx="467.4" cy="113.6" r="1.6"/><circle cx="467.4" cy="119" r="1.6"/>
</g>
<path d="M464.9 166.1h5l-2.5 4.8z" fill="#000"/>
<g fill="#fff" stroke="#111" stroke-width="0.75">
<circle cx="592.4" cy="86.5" r="1.6"/><circle cx="590.5" cy="94.7" r="1.6"/><circle cx="594.2" cy="94.7" r="1.6"/><circle cx="588.7" cy="97.4" r="1.6"/><circle cx="592.4" cy="97.4" r="1.6"/><circle cx="596.1" cy="97.4" r="1.6"/><circle cx="573.9" cy="100.1" r="1.6"/><circle cx="577.6" cy="100.1" r="1.6"/><circle cx="581.3" cy="100.1" r="1.6"/><circle cx="585" cy="100.1" r="1.6"/><circle cx="588.7" cy="100.1" r="1.6"/><circle cx="592.4" cy="100.1" r="1.6"/><circle cx="596.1" cy="100.1" r="1.6"/><circle cx="599.8" cy="100.1" r="1.6"/><circle cx="603.5" cy="100.1" r="1.6"/><circle cx="607.2" cy="100.1" r="1.6"/><circle cx="610.9" cy="100.1" r="1.6"/><circle cx="566.5" cy="102.8" r="1.6"/><circle cx="570.2" cy="102.8" r="1.6"/><circle cx="573.9" cy="102.8" r="1.6"/><circle cx="577.6" cy="102.8" r="1.6"/><circle cx="581.3" cy="102.8" r="1.6"/><circle cx="585" cy="102.8" r="1.6"/><circle cx="588.7" cy="102.8" r="1.6"/><circle cx="592.4" cy="102.8" r="1.6"/><circle cx="596.1" cy="102.8" r="1.6"/><circle cx="599.8" cy="102.8" r="1.6"/><circle cx="603.5" cy="102.8" r="1.6"/><circle cx="607.2" cy="102.8" r="1.6"/><circle cx="610.9" cy="102.8" r="1.6"/><circle cx="614.6" cy="102.8" r="1.6"/><circle cx="618.3" cy="102.8" r="1.6"/><circle cx="561.8" cy="105.5" r="1.6"/><circle cx="562.8" cy="105.5" r="1.6"/><circle cx="563.9" cy="105.5" r="1.6"/><circle cx="564.9" cy="105.5" r="1.6"/><circle cx="566" cy="105.5" r="1.6"/><circle cx="567" cy="105.5" r="1.6"/><circle cx="568" cy="105.5" r="1.6"/><circle cx="569.1" cy="105.5" r="1.6"/><circle cx="570.1" cy="105.5" r="1.6"/><circle cx="571.2" cy="105.5" r="1.6"/><circle cx="572.2" cy="105.5" r="1.6"/><circle cx="573.2" cy="105.5" r="1.6"/><circle cx="574.3" cy="105.5" r="1.6"/><circle cx="575.3" cy="105.5" r="1.6"/><circle cx="576.4" cy="105.5" r="1.6"/><circle cx="577.4" cy="105.5" r="1.6"/><circle cx="578.5" cy="105.5" r="1.6"/><circle cx="579.5" cy="105.5" r="1.6"/><circle cx="580.5" cy="105.5" r="1.6"/><circle cx="581.6" cy="105.5" r="1.6"/><circle cx="582.6" cy="105.5" r="1.6"/><circle cx="583.7" cy="105.5" r="1.6"/><circle cx="584.7" cy="105.5" r="1.6"/><circle cx="585.7" cy="105.5" r="1.6"/><circle cx="586.8" cy="105.5" r="1.6"/><circle cx="587.8" cy="105.5" r="1.6"/><circle cx="588.9" cy="105.5" r="1.6"/><circle cx="589.9" cy="105.5" r="1.6"/><circle cx="590.9" cy="105.5" r="1.6"/><circle cx="592" cy="105.5" r="1.6"/><circle cx="593" cy="105.5" r="1.6"/><circle cx="594.1" cy="105.5" r="1.6"/><circle cx="595.1" cy="105.5" r="1.6"/><circle cx="596.1" cy="105.5" r="1.6"/><circle cx="597.2" cy="105.5" r="1.6"/><circle cx="598.2" cy="105.5" r="1.6"/><circle cx="599.3" cy="105.5" r="1.6"/><circle cx="600.3" cy="105.5" r="1.6"/><circle cx="601.3" cy="105.5" r="1.6"/><circle cx="602.4" cy="105.5" r="1.6"/><circle cx="603.4" cy="105.5" r="1.6"/><circle cx="604.5" cy="105.5" r="1.6"/><circle cx="605.5" cy="105.5" r="1.6"/><circle cx="606.5" cy="105.5" r="1.6"/><circle cx="607.6" cy="105.5" r="1.6"/><circle cx="608.6" cy="105.5" r="1.6"/><circle cx="609.7" cy="105.5" r="1.6"/><circle cx="610.7" cy="105.5" r="1.6"/><circle cx="611.8" cy="105.5" r="1.6"/><circle cx="612.8" cy="105.5" r="1.6"/><circle cx="613.8" cy="105.5" r="1.6"/><circle cx="614.9" cy="105.5" r="1.6"/><circle cx="615.9" cy="105.5" r="1.6"/><circle cx="617" cy="105.5" r="1.6"/><circle cx="618" cy="105.5" r="1.6"/><circle cx="619" cy="105.5" r="1.6"/><circle cx="620.1" cy="105.5" r="1.6"/><circle cx="621.1" cy="105.5" r="1.6"/><circle cx="622.2" cy="105.5" r="1.6"/><circle cx="623.2" cy="105.5" r="1.6"/><circle cx="561.8" cy="108.2" r="1.6"/><circle cx="562.6" cy="108.2" r="1.6"/><circle cx="563.5" cy="108.2" r="1.6"/><circle cx="564.3" cy="108.2" r="1.6"/><circle cx="565.1" cy="108.2" r="1.6"/><circle cx="565.9" cy="108.2" r="1.6"/><circle cx="566.8" cy="108.2" r="1.6"/><circle cx="567.6" cy="108.2" r="1.6"/><circle cx="568.4" cy="108.2" r="1.6"/><circle cx="569.3" cy="108.2" r="1.6"/><circle cx="570.1" cy="108.2" r="1.6"/><circle cx="570.9" cy="108.2" r="1.6"/><circle cx="571.8" cy="108.2" r="1.6"/><circle cx="572.6" cy="108.2" r="1.6"/><circle cx="573.4" cy="108.2" r="1.6"/><circle cx="574.2" cy="108.2" r="1.6"/><circle cx="575.1" cy="108.2" r="1.6"/><circle cx="575.9" cy="108.2" r="1.6"/><circle cx="576.7" cy="108.2" r="1.6"/><circle cx="577.6" cy="108.2" r="1.6"/><circle cx="578.4" cy="108.2" r="1.6"/><circle cx="579.2" cy="108.2" r="1.6"/><circle cx="580.1" cy="108.2" r="1.6"/><circle cx="580.9" cy="108.2" r="1.6"/><circle cx="581.7" cy="108.2" r="1.6"/><circle cx="582.5" cy="108.2" r="1.6"/><circle cx="583.4" cy="108.2" r="1.6"/><circle cx="584.2" cy="108.2" r="1.6"/><circle cx="585" cy="108.2" r="1.6"/><circle cx="585.9" cy="108.2" r="1.6"/><circle cx="586.7" cy="108.2" r="1.6"/><circle cx="587.5" cy="108.2" r="1.6"/><circle cx="588.4" cy="108.2" r="1.6"/><circle cx="589.2" cy="108.2" r="1.6"/><circle cx="590" cy="108.2" r="1.6"/><circle cx="590.8" cy="108.2" r="1.6"/><circle cx="591.7" cy="108.2" r="1.6"/><circle cx="592.5" cy="108.2" r="1.6"/><circle cx="593.3" cy="108.2" r="1.6"/><circle cx="594.2" cy="108.2" r="1.6"/><circle cx="595" cy="108.2" r="1.6"/><circle cx="595.8" cy="108.2" r="1.6"/><circle cx="596.6" cy="108.2" r="1.6"/><circle cx="597.5" cy="108.2" r="1.6"/><circle cx="598.3" cy="108.2" r="1.6"/><circle cx="599.1" cy="108.2" r="1.6"/><circle cx="600" cy="108.2" r="1.6"/><circle cx="600.8" cy="108.2" r="1.6"/><circle cx="601.6" cy="108.2" r="1.6"/><circle cx="602.5" cy="108.2" r="1.6"/><circle cx="603.3" cy="108.2" r="1.6"/><circle cx="604.1" cy="108.2" r="1.6"/><circle cx="604.9" cy="108.2" r="1.6"/><circle cx="605.8" cy="108.2" r="1.6"/><circle cx="606.6" cy="108.2" r="1.6"/><circle cx="607.4" cy="108.2" r="1.6"/><circle cx="608.3" cy="108.2" r="1.6"/><circle cx="609.1" cy="108.2" r="1.6"/><circle cx="609.9" cy="108.2" r="1.6"/><circle cx="610.8" cy="108.2" r="1.6"/><circle cx="611.6" cy="108.2" r="1.6"/><circle cx="612.4" cy="108.2" r="1.6"/><circle cx="613.2" cy="108.2" r="1.6"/><circle cx="614.1" cy="108.2" r="1.6"/><circle cx="614.9" cy="108.2" r="1.6"/><circle cx="615.7" cy="108.2" r="1.6"/><circle cx="616.6" cy="108.2" r="1.6"/><circle cx="617.4" cy="108.2" r="1.6"/><circle cx="618.2" cy="108.2" r="1.6"/><circle cx="619.1" cy="108.2" r="1.6"/><circle cx="619.9" cy="108.2" r="1.6"/><circle cx="620.7" cy="108.2" r="1.6"/><circle cx="621.5" cy="108.2" r="1.6"/><circle cx="622.4" cy="108.2" r="1.6"/><circle cx="623.2" cy="108.2" r="1.6"/>
</g>
<rect x="559.9" y="109" width="65.2" height="3.8" rx="1.6" fill="#000"/>
<g fill="#fff" stroke="#111" stroke-width="0.75">
<circle cx="623.2" cy="110.9" r="1.6"/>
</g>
<rect x="559.9" y="111.7" width="65.2" height="3.8" rx="1.6" fill="#000"/>
<g fill="#fff" stroke="#111" stroke-width="0.75">
<circle cx="623.2" cy="113.6" r="1.6"/>
</g>
<rect x="559.9" y="114.4" width="65.2" height="3.8" rx="1.6" fill="#000"/>
<g fill="#fff" stroke="#111" stroke-width="0.75">
<circle cx="623.2" cy="116.3" r="1.6"/>
</g>
<rect x="559.9" y="117.1" width="65.2" height="3.8" rx="1.6" fill="#000"/>
<g fill="#fff" stroke="#111" stroke-width="0.75">
<circle cx="623.2" cy="119" r="1.6"/>
</g>
<rect x="559.9" y="119.8" width="65.2" height="3.8" rx="1.6" fill="#000"/>
<g fill="#fff" stroke="#111" stroke-width="0.75">
<circle cx="623.2" cy="121.7" r="1.6"/>
</g>
<rect x="559.9" y="122.5" width="65.2" height="3.8" rx="1.6" fill="#000"/>
<g fill="#fff" stroke="#111" stroke-width="0.75">
<circle cx="623.2" cy="124.4" r="1.6"/>
</g>
<rect x="559.9" y="125.2" width="65.2" height="3.8" rx="1.6" fill="#000"/>
<g fill="#fff" stroke="#111" stroke-width="0.75">
<circle cx="623.2" cy="127.1" r="1.6"/>
</g>
<rect x="559.9" y="127.9" width="65.2" height="3.8" rx="1.6" fill="#000"/>
<g fill="#fff" stroke="#111" stroke-width="0.75">
<circle cx="623.2" cy="129.8" r="1.6"/>
</g>
<rect x="559.9" y="130.6" width="65.2" height="3.8" rx="1.6" fill="#000"/>
<g fill="#fff" stroke="#111" stroke-width="0.75">
<circle cx="623.2" cy="132.5" r="1.6"/>
</g>
<rect x="559.9" y="133.3" width="65.2" height="3.8" rx="1.6" fill="#000"/>
<g fill="#fff" stroke="#111" stroke-width="0.75">
<circle cx="623.2" cy="135.2" r="1.6"/>
</g>
<rect x="559.9" y="136" width="65.2" height="3.8" rx="1.6" fill="#000"/>
<g fill="#fff" stroke="#111" stroke-width="0.75">
<circle cx="623.2" cy="137.9" r="1.6"/><circle cx="561.8" cy="140.6" r="1.6"/><circle cx="562.3" cy="140.6" r="1.6"/><circle cx="562.8" cy="140.6" r="1.6"/><circle cx="563.4" cy="140.6" r="1.6"/><circle cx="563.9" cy="140.6" r="1.6"/><circle cx="564.4" cy="140.6" r="1.6"/><circle cx="564.9" cy="140.6" r="1.6"/><circle cx="565.5" cy="140.6" r="1.6"/><circle cx="566" cy="140.6" r="1.6"/><circle cx="566.5" cy="140.6" r="1.6"/><circle cx="567" cy="140.6" r="1.6"/><circle cx="567.6" cy="140.6" r="1.6"/><circle cx="568.1" cy="140.6" r="1.6"/><circle cx="568.6" cy="140.6" r="1.6"/><circle cx="569.1" cy="140.6" r="1.6"/><circle cx="569.7" cy="140.6" r="1.6"/><circle cx="570.2" cy="140.6" r="1.6"/><circle cx="570.7" cy="140.6" r="1.6"/><circle cx="571.2" cy="140.6" r="1.6"/><circle cx="571.8" cy="140.6" r="1.6"/><circle cx="572.3" cy="140.6" r="1.6"/><circle cx="572.8" cy="140.6" r="1.6"/><circle cx="573.3" cy="140.6" r="1.6"/><circle cx="573.9" cy="140.6" r="1.6"/><circle cx="574.4" cy="140.6" r="1.6"/><circle cx="574.9" cy="140.6" r="1.6"/><circle cx="575.4" cy="140.6" r="1.6"/><circle cx="576" cy="140.6" r="1.6"/><circle cx="576.5" cy="140.6" r="1.6"/><circle cx="577" cy="140.6" r="1.6"/><circle cx="577.5" cy="140.6" r="1.6"/><circle cx="578.1" cy="140.6" r="1.6"/><circle cx="578.6" cy="140.6" r="1.6"/><circle cx="579.1" cy="140.6" r="1.6"/><circle cx="579.6" cy="140.6" r="1.6"/><circle cx="580.2" cy="140.6" r="1.6"/><circle cx="580.7" cy="140.6" r="1.6"/><circle cx="581.2" cy="140.6" r="1.6"/><circle cx="581.7" cy="140.6" r="1.6"/><circle cx="582.3" cy="140.6" r="1.6"/><circle cx="582.8" cy="140.6" r="1.6"/><circle cx="583.3" cy="140.6" r="1.6"/><circle cx="583.8" cy="140.6" r="1.6"/><circle cx="584.4" cy="140.6" r="1.6"/><circle cx="584.9" cy="140.6" r="1.6"/><circle cx="585.4" cy="140.6" r="1.6"/><circle cx="585.9" cy="140.6" r="1.6"/><circle cx="586.5" cy="140.6" r="1.6"/><circle cx="587" cy="140.6" r="1.6"/><circle cx="587.5" cy="140.6" r="1.6"/><circle cx="588" cy="140.6" r="1.6"/><circle cx="588.6" cy="140.6" r="1.6"/><circle cx="589.1" cy="140.6" r="1.6"/><circle cx="589.6" cy="140.6" r="1.6"/><circle cx="590.1" cy="140.6" r="1.6"/><circle cx="590.7" cy="140.6" r="1.6"/><circle cx="591.2" cy="140.6" r="1.6"/><circle cx="591.7" cy="140.6" r="1.6"/><circle cx="592.2" cy="140.6" r="1.6"/><circle cx="592.8" cy="140.6" r="1.6"/><circle cx="593.3" cy="140.6" r="1.6"/><circle cx="593.8" cy="140.6" r="1.6"/><circle cx="594.3" cy="140.6" r="1.6"/><circle cx="594.9" cy="140.6" r="1.6"/><circle cx="595.4" cy="140.6" r="1.6"/><circle cx="595.9" cy="140.6" r="1.6"/><circle cx="596.4" cy="140.6" r="1.6"/><circle cx="597" cy="140.6" r="1.6"/><circle cx="597.5" cy="140.6" r="1.6"/><circle cx="598" cy="140.6" r="1.6"/><circle cx="598.5" cy="140.6" r="1.6"/><circle cx="599.1" cy="140.6" r="1.6"/><circle cx="599.6" cy="140.6" r="1.6"/><circle cx="600.1" cy="140.6" r="1.6"/><circle cx="600.6" cy="140.6" r="1.6"/><circle cx="601.2" cy="140.6" r="1.6"/><circle cx="601.7" cy="140.6" r="1.6"/><circle cx="602.2" cy="140.6" r="1.6"/><circle cx="602.7" cy="140.6" r="1.6"/><circle cx="603.3" cy="140.6" r="1.6"/><circle cx="603.8" cy="140.6" r="1.6"/><circle cx="604.3" cy="140.6" r="1.6"/><circle cx="604.8" cy="140.6" r="1.6"/><circle cx="605.4" cy="140.6" r="1.6"/><circle cx="605.9" cy="140.6" r="1.6"/><circle cx="606.4" cy="140.6" r="1.6"/><circle cx="606.9" cy="140.6" r="1.6"/><circle cx="607.5" cy="140.6" r="1.6"/><circle cx="608" cy="140.6" r="1.6"/><circle cx="608.5" cy="140.6" r="1.6"/><circle cx="609" cy="140.6" r="1.6"/><circle cx="609.6" cy="140.6" r="1.6"/><circle cx="610.1" cy="140.6" r="1.6"/><circle cx="610.6" cy="140.6" r="1.6"/><circle cx="611.1" cy="140.6" r="1.6"/><circle cx="611.7" cy="140.6" r="1.6"/><circle cx="612.2" cy="140.6" r="1.6"/><circle cx="612.7" cy="140.6" r="1.6"/><circle cx="613.2" cy="140.6" r="1.6"/><circle cx="613.8" cy="140.6" r="1.6"/><circle cx="614.3" cy="140.6" r="1.6"/><circle cx="614.8" cy="140.6" r="1.6"/><circle cx="615.3" cy="140.6" r="1.6"/><circle cx="615.9" cy="140.6" r="1.6"/><circle cx="616.4" cy="140.6" r="1.6"/><circle cx="616.9" cy="140.6" r="1.6"/><circle cx="617.4" cy="140.6" r="1.6"/><circle cx="618" cy="140.6" r="1.6"/><circle cx="618.5" cy="140.6" r="1.6"/><circle cx="619" cy="140.6" r="1.6"/><circle cx="619.5" cy="140.6" r="1.6"/><circle cx="620.1" cy="140.6" r="1.6"/><circle cx="620.6" cy="140.6" r="1.6"/><circle cx="621.1" cy="140.6" r="1.6"/><circle cx="621.6" cy="140.6" r="1.6"/><circle cx="622.2" cy="140.6" r="1.6"/><circle cx="622.7" cy="140.6" r="1.6"/><circle cx="623.2" cy="140.6" r="1.6"/><circle cx="561.8" cy="143.3" r="1.6"/><circle cx="562.6" cy="143.3" r="1.6"/><circle cx="563.4" cy="143.3" r="1.6"/><circle cx="564.1" cy="143.3" r="1.6"/><circle cx="564.9" cy="143.3" r="1.6"/><circle cx="565.7" cy="143.3" r="1.6"/><circle cx="566.5" cy="143.3" r="1.6"/><circle cx="567.2" cy="143.3" r="1.6"/><circle cx="568" cy="143.3" r="1.6"/><circle cx="568.8" cy="143.3" r="1.6"/><circle cx="569.6" cy="143.3" r="1.6"/><circle cx="570.3" cy="143.3" r="1.6"/><circle cx="571.1" cy="143.3" r="1.6"/><circle cx="571.9" cy="143.3" r="1.6"/><circle cx="572.7" cy="143.3" r="1.6"/><circle cx="573.5" cy="143.3" r="1.6"/><circle cx="574.2" cy="143.3" r="1.6"/><circle cx="575" cy="143.3" r="1.6"/><circle cx="575.8" cy="143.3" r="1.6"/><circle cx="576.6" cy="143.3" r="1.6"/><circle cx="577.3" cy="143.3" r="1.6"/><circle cx="578.1" cy="143.3" r="1.6"/><circle cx="578.9" cy="143.3" r="1.6"/><circle cx="579.7" cy="143.3" r="1.6"/><circle cx="580.5" cy="143.3" r="1.6"/><circle cx="581.2" cy="143.3" r="1.6"/><circle cx="582" cy="143.3" r="1.6"/><circle cx="582.8" cy="143.3" r="1.6"/><circle cx="583.6" cy="143.3" r="1.6"/><circle cx="584.3" cy="143.3" r="1.6"/><circle cx="585.1" cy="143.3" r="1.6"/><circle cx="585.9" cy="143.3" r="1.6"/><circle cx="586.7" cy="143.3" r="1.6"/><circle cx="587.4" cy="143.3" r="1.6"/><circle cx="588.2" cy="143.3" r="1.6"/><circle cx="589" cy="143.3" r="1.6"/><circle cx="589.8" cy="143.3" r="1.6"/><circle cx="590.6" cy="143.3" r="1.6"/><circle cx="591.3" cy="143.3" r="1.6"/><circle cx="592.1" cy="143.3" r="1.6"/><circle cx="592.9" cy="143.3" r="1.6"/><circle cx="593.7" cy="143.3" r="1.6"/><circle cx="594.4" cy="143.3" r="1.6"/><circle cx="595.2" cy="143.3" r="1.6"/><circle cx="596" cy="143.3" r="1.6"/><circle cx="596.8" cy="143.3" r="1.6"/><circle cx="597.6" cy="143.3" r="1.6"/><circle cx="598.3" cy="143.3" r="1.6"/><circle cx="599.1" cy="143.3" r="1.6"/><circle cx="599.9" cy="143.3" r="1.6"/><circle cx="600.7" cy="143.3" r="1.6"/><circle cx="601.4" cy="143.3" r="1.6"/><circle cx="602.2" cy="143.3" r="1.6"/><circle cx="603" cy="143.3" r="1.6"/><circle cx="603.8" cy="143.3" r="1.6"/><circle cx="604.5" cy="143.3" r="1.6"/><circle cx="605.3" cy="143.3" r="1.6"/><circle cx="606.1" cy="143.3" r="1.6"/><circle cx="606.9" cy="143.3" r="1.6"/><circle cx="607.7" cy="143.3" r="1.6"/><circle cx="608.4" cy="143.3" r="1.6"/><circle cx="609.2" cy="143.3" r="1.6"/><circle cx="610" cy="143.3" r="1.6"/><circle cx="610.8" cy="143.3" r="1.6"/><circle cx="611.5" cy="143.3" r="1.6"/><circle cx="612.3" cy="143.3" r="1.6"/><circle cx="613.1" cy="143.3" r="1.6"/><circle cx="613.9" cy="143.3" r="1.6"/><circle cx="614.7" cy="143.3" r="1.6"/><circle cx="615.4" cy="143.3" r="1.6"/><circle cx="616.2" cy="143.3" r="1.6"/><circle cx="617" cy="143.3" r="1.6"/><circle cx="617.8" cy="143.3" r="1.6"/><circle cx="618.5" cy="143.3" r="1.6"/><circle cx="619.3" cy="143.3" r="1.6"/><circle cx="620.1" cy="143.3" r="1.6"/><circle cx="620.9" cy="143.3" r="1.6"/><circle cx="621.6" cy="143.3" r="1.6"/><circle cx="622.4" cy="143.3" r="1.6"/><circle cx="623.2" cy="143.3" r="1.6"/><circle cx="561.8" cy="146" r="1.6"/><circle cx="563.1" cy="146" r="1.6"/><circle cx="564.3" cy="146" r="1.6"/><circle cx="565.6" cy="146" r="1.6"/><circle cx="566.8" cy="146" r="1.6"/><circle cx="568.1" cy="146" r="1.6"/><circle cx="569.3" cy="146" r="1.6"/><circle cx="570.6" cy="146" r="1.6"/><circle cx="571.8" cy="146" r="1.6"/><circle cx="573.1" cy="146" r="1.6"/><circle cx="574.3" cy="146" r="1.6"/><circle cx="575.6" cy="146" r="1.6"/><circle cx="576.8" cy="146" r="1.6"/><circle cx="578.1" cy="146" r="1.6"/><circle cx="579.3" cy="146" r="1.6"/><circle cx="580.6" cy="146" r="1.6"/><circle cx="581.8" cy="146" r="1.6"/><circle cx="583.1" cy="146" r="1.6"/><circle cx="584.4" cy="146" r="1.6"/><circle cx="585.6" cy="146" r="1.6"/><circle cx="586.9" cy="146" r="1.6"/><circle cx="588.1" cy="146" r="1.6"/><circle cx="589.4" cy="146" r="1.6"/><circle cx="590.6" cy="146" r="1.6"/><circle cx="591.9" cy="146" r="1.6"/><circle cx="593.1" cy="146" r="1.6"/><circle cx="594.4" cy="146" r="1.6"/><circle cx="595.6" cy="146" r="1.6"/><circle cx="596.9" cy="146" r="1.6"/><circle cx="598.1" cy="146" r="1.6"/><circle cx="599.4" cy="146" r="1.6"/><circle cx="600.6" cy="146" r="1.6"/><circle cx="601.9" cy="146" r="1.6"/><circle cx="603.2" cy="146" r="1.6"/><circle cx="604.4" cy="146" r="1.6"/><circle cx="605.7" cy="146" r="1.6"/><circle cx="606.9" cy="146" r="1.6"/><circle cx="608.2" cy="146" r="1.6"/><circle cx="609.4" cy="146" r="1.6"/><circle cx="610.7" cy="146" r="1.6"/><circle cx="611.9" cy="146" r="1.6"/><circle cx="613.2" cy="146" r="1.6"/><circle cx="614.4" cy="146" r="1.6"/><circle cx="615.7" cy="146" r="1.6"/><circle cx="616.9" cy="146" r="1.6"/><circle cx="618.2" cy="146" r="1.6"/><circle cx="619.4" cy="146" r="1.6"/><circle cx="620.7" cy="146" r="1.6"/><circle cx="621.9" cy="146" r="1.6"/><circle cx="623.2" cy="146" r="1.6"/><circle cx="561.8" cy="148.8" r="1.6"/><circle cx="563.6" cy="148.8" r="1.6"/><circle cx="565.3" cy="148.8" r="1.6"/><circle cx="567.1" cy="148.8" r="1.6"/><circle cx="568.8" cy="148.8" r="1.6"/><circle cx="570.6" cy="148.8" r="1.6"/><circle cx="572.3" cy="148.8" r="1.6"/><circle cx="574.1" cy="148.8" r="1.6"/><circle cx="575.8" cy="148.8" r="1.6"/><circle cx="577.6" cy="148.8" r="1.6"/><circle cx="579.3" cy="148.8" r="1.6"/><circle cx="581.1" cy="148.8" r="1.6"/><circle cx="582.9" cy="148.8" r="1.6"/><circle cx="584.6" cy="148.8" r="1.6"/><circle cx="586.4" cy="148.8" r="1.6"/><circle cx="588.1" cy="148.8" r="1.6"/><circle cx="589.9" cy="148.8" r="1.6"/><circle cx="591.6" cy="148.8" r="1.6"/><circle cx="593.4" cy="148.8" r="1.6"/><circle cx="595.1" cy="148.8" r="1.6"/><circle cx="596.9" cy="148.8" r="1.6"/><circle cx="598.6" cy="148.8" r="1.6"/><circle cx="600.4" cy="148.8" r="1.6"/><circle cx="602.1" cy="148.8" r="1.6"/><circle cx="603.9" cy="148.8" r="1.6"/><circle cx="605.7" cy="148.8" r="1.6"/><circle cx="607.4" cy="148.8" r="1.6"/><circle cx="609.2" cy="148.8" r="1.6"/><circle cx="610.9" cy="148.8" r="1.6"/><circle cx="612.7" cy="148.8" r="1.6"/><circle cx="614.4" cy="148.8" r="1.6"/><circle cx="616.2" cy="148.8" r="1.6"/><circle cx="617.9" cy="148.8" r="1.6"/><circle cx="619.7" cy="148.8" r="1.6"/><circle cx="621.4" cy="148.8" r="1.6"/><circle cx="623.2" cy="148.8" r="1.6"/><circle cx="562.8" cy="151.5" r="1.6"/><circle cx="566.5" cy="151.5" r="1.6"/><circle cx="570.2" cy="151.5" r="1.6"/><circle cx="573.9" cy="151.5" r="1.6"/><circle cx="577.6" cy="151.5" r="1.6"/><circle cx="581.3" cy="151.5" r="1.6"/><circle cx="585" cy="151.5" r="1.6"/><circle cx="588.7" cy="151.5" r="1.6"/><circle cx="592.4" cy="151.5" r="1.6"/><circle cx="596.1" cy="151.5" r="1.6"/><circle cx="599.8" cy="151.5" r="1.6"/><circle cx="603.5" cy="151.5" r="1.6"/><circle cx="607.2" cy="151.5" r="1.6"/><circle cx="610.9" cy="151.5" r="1.6"/><circle cx="614.6" cy="151.5" r="1.6"/><circle cx="618.3" cy="151.5" r="1.6"/><circle cx="622" cy="151.5" r="1.6"/><circle cx="561.8" cy="154.2" r="1.6"/><circle cx="564.3" cy="154.2" r="1.6"/><circle cx="566.7" cy="154.2" r="1.6"/><circle cx="569.2" cy="154.2" r="1.6"/><circle cx="571.6" cy="154.2" r="1.6"/><circle cx="574.1" cy="154.2" r="1.6"/><circle cx="576.5" cy="154.2" r="1.6"/><circle cx="579" cy="154.2" r="1.6"/><circle cx="581.4" cy="154.2" r="1.6"/><circle cx="583.9" cy="154.2" r="1.6"/><circle cx="586.4" cy="154.2" r="1.6"/><circle cx="588.8" cy="154.2" r="1.6"/><circle cx="591.3" cy="154.2" r="1.6"/><circle cx="593.7" cy="154.2" r="1.6"/><circle cx="596.2" cy="154.2" r="1.6"/><circle cx="598.6" cy="154.2" r="1.6"/><circle cx="601.1" cy="154.2" r="1.6"/><circle cx="603.6" cy="154.2" r="1.6"/><circle cx="606" cy="154.2" r="1.6"/><circle cx="608.5" cy="154.2" r="1.6"/><circle cx="610.9" cy="154.2" r="1.6"/><circle cx="613.4" cy="154.2" r="1.6"/><circle cx="615.8" cy="154.2" r="1.6"/><circle cx="618.3" cy="154.2" r="1.6"/><circle cx="620.7" cy="154.2" r="1.6"/><circle cx="623.2" cy="154.2" r="1.6"/><circle cx="564.6" cy="156.9" r="1.6"/><circle cx="568.4" cy="156.9" r="1.6"/><circle cx="572" cy="156.9" r="1.6"/><circle cx="575.8" cy="156.9" r="1.6"/><circle cx="579.4" cy="156.9" r="1.6"/><circle cx="583.1" cy="156.9" r="1.6"/><circle cx="586.9" cy="156.9" r="1.6"/><circle cx="590.5" cy="156.9" r="1.6"/><circle cx="594.2" cy="156.9" r="1.6"/><circle cx="597.9" cy="156.9" r="1.6"/><circle cx="601.6" cy="156.9" r="1.6"/><circle cx="605.4" cy="156.9" r="1.6"/><circle cx="609" cy="156.9" r="1.6"/><circle cx="612.8" cy="156.9" r="1.6"/><circle cx="616.4" cy="156.9" r="1.6"/><circle cx="620.1" cy="156.9" r="1.6"/><circle cx="566.5" cy="159.6" r="1.6"/><circle cx="570.2" cy="159.6" r="1.6"/><circle cx="573.9" cy="159.6" r="1.6"/><circle cx="577.6" cy="159.6" r="1.6"/><circle cx="581.3" cy="159.6" r="1.6"/><circle cx="585" cy="159.6" r="1.6"/><circle cx="588.7" cy="159.6" r="1.6"/><circle cx="592.4" cy="159.6" r="1.6"/><circle cx="596.1" cy="159.6" r="1.6"/><circle cx="599.8" cy="159.6" r="1.6"/><circle cx="603.5" cy="159.6" r="1.6"/><circle cx="607.2" cy="159.6" r="1.6"/><circle cx="610.9" cy="159.6" r="1.6"/><circle cx="614.6" cy="159.6" r="1.6"/><circle cx="618.3" cy="159.6" r="1.6"/>
</g>
<g fill="#fff"><ellipse cx="584.5" cy="135.1" rx="0.9" ry="0.5"/><ellipse cx="588.3" cy="135.1" rx="0.9" ry="0.5"/><ellipse cx="592.1" cy="135.1" rx="0.9" ry="0.5"/><ellipse cx="595.9" cy="135.1" rx="0.9" ry="0.5"/><ellipse cx="599.7" cy="135.1" rx="0.9" ry="0.5"/></g>
<path d="M568.8 163.4h5l-2.5 4.8zM573.1 163.4h5l-2.5 4.8zM577.4 163.4h5l-2.5 4.8zM581.7 163.4h5l-2.5 4.8zM586 163.4h5l-2.5 4.8zM590.3 163.4h5l-2.5 4.8zM594.6 163.4h5l-2.5 4.8zM598.9 163.4h5l-2.5 4.8zM603.2 163.4h5l-2.5 4.8zM607.5 163.4h5l-2.5 4.8zM611.8 163.4h5l-2.5 4.8zM575 166.1h5l-2.5 4.8zM579.2 166.1h5l-2.5 4.8zM583.6 166.1h5l-2.5 4.8zM587.9 166.1h5l-2.5 4.8zM592.2 166.1h5l-2.5 4.8zM596.5 166.1h5l-2.5 4.8zM600.8 166.1h5l-2.5 4.8zM605.1 166.1h5l-2.5 4.8zM560.7 168.8h5l-2.5 4.8zM565 168.8h5l-2.5 4.8zM569.3 168.8h5l-2.5 4.8zM573.6 168.8h5l-2.5 4.8zM577.9 168.8h5l-2.5 4.8zM582.2 168.8h5l-2.5 4.8zM586.5 168.8h5l-2.5 4.8zM590.8 168.8h5l-2.5 4.8zM595.1 168.8h5l-2.5 4.8zM599.4 168.8h5l-2.5 4.8zM603.7 168.8h5l-2.5 4.8zM608 168.8h5l-2.5 4.8zM581.4 171.5h5l-2.5 4.8zM585.7 171.5h5l-2.5 4.8zM590 171.5h5l-2.5 4.8zM594.3 171.5h5l-2.5 4.8zM598.6 171.5h5l-2.5 4.8zM579.4 174.2h5l-2.5 4.8zM583.7 174.2h5l-2.5 4.8zM588 174.2h5l-2.5 4.8zM592.3 174.2h5l-2.5 4.8zM596.6 174.2h5l-2.5 4.8zM600.9 174.2h5l-2.5 4.8zM583.5 176.9h5l-2.5 4.8zM587.8 176.9h5l-2.5 4.8zM592.1 176.9h5l-2.5 4.8zM596.4 176.9h5l-2.5 4.8zM583.6 179.6h5l-2.5 4.8zM587.9 179.6h5l-2.5 4.8zM592.2 179.6h5l-2.5 4.8zM596.5 179.6h5l-2.5 4.8zM585.7 182.3h5l-2.5 4.8zM590 182.3h5l-2.5 4.8zM594.3 182.3h5l-2.5 4.8zM588.1 185h5l-2.5 4.8zM592.4 185h5l-2.5 4.8zM590.2 187.7h5l-2.5 4.8zM575.2 190.4h5l-2.5 4.8zM579.5 190.4h5l-2.5 4.8zM583.8 190.4h5l-2.5 4.8zM588.1 190.4h5l-2.5 4.8zM592.4 190.4h5l-2.5 4.8zM596.7 190.4h5l-2.5 4.8zM601 190.4h5l-2.5 4.8zM605.3 190.4h5l-2.5 4.8zM587.9 193.1h5l-2.5 4.8zM592.1 193.1h5l-2.5 4.8zM579.5 195.8h5l-2.5 4.8zM583.8 195.8h5l-2.5 4.8zM588.1 195.8h5l-2.5 4.8zM592.4 195.8h5l-2.5 4.8zM596.7 195.8h5l-2.5 4.8zM601 195.8h5l-2.5 4.8zM587.9 198.5h5l-2.5 4.8zM592.1 198.5h5l-2.5 4.8zM579.5 201.2h5l-2.5 4.8zM583.8 201.2h5l-2.5 4.8zM588.1 201.2h5l-2.5 4.8zM592.4 201.2h5l-2.5 4.8zM596.8 201.2h5l-2.5 4.8zM601 201.2h5l-2.5 4.8zM615 168.8h5l-2.5 4.8zM619.1 168.8h5l-2.5 4.8zM589.9 209.4h5l-2.5 4.8zM589.9 211.5h5l-2.5 4.8zM587.8 217.5h5l-2.5 4.8zM592.2 217.5h5l-2.5 4.8zM589.9 11.6h5l-2.5 4.8zM588.1 49.7h5l-2.5 4.8zM591.9 49.7h5l-2.5 4.8zM589.9 73.6h5l-2.5 4.8z" fill="#000"/>
<path d="M464.6 44.2V35.6H592.3V44.2" fill="none" stroke="#3a3a3a" stroke-width="0.9"/>
<text x="527.8" y="32.1" font-size="9.4" text-anchor="middle">p = 0,98</text>
<rect x="377.9" y="7.45" width="304.45" height="228.75" fill="none" stroke="#7a7a7a" stroke-width="1.25"/>
<path d="M377.9 224.5L381.1 224.5" stroke="#333" stroke-width="1.0" fill="none"/>
<path d="M377.9 219.1L381.1 219.1" stroke="#333" stroke-width="1.0" fill="none"/>
<path d="M377.9 213.7L381.1 213.7" stroke="#333" stroke-width="1.0" fill="none"/>
<path d="M377.9 208.3L381.1 208.3" stroke="#333" stroke-width="1.0" fill="none"/>
<path d="M377.9 197.4L381.1 197.4" stroke="#333" stroke-width="1.0" fill="none"/>
<path d="M377.9 192L381.1 192" stroke="#333" stroke-width="1.0" fill="none"/>
<path d="M377.9 186.6L381.1 186.6" stroke="#333" stroke-width="1.0" fill="none"/>
<path d="M377.9 181.2L381.1 181.2" stroke="#333" stroke-width="1.0" fill="none"/>
<path d="M377.9 170.4L381.1 170.4" stroke="#333" stroke-width="1.0" fill="none"/>
<path d="M377.9 165L381.1 165" stroke="#333" stroke-width="1.0" fill="none"/>
<path d="M377.9 159.6L381.1 159.6" stroke="#333" stroke-width="1.0" fill="none"/>
<path d="M377.9 154.2L381.1 154.2" stroke="#333" stroke-width="1.0" fill="none"/>
<path d="M377.9 143.3L381.1 143.3" stroke="#333" stroke-width="1.0" fill="none"/>
<path d="M377.9 137.9L381.1 137.9" stroke="#333" stroke-width="1.0" fill="none"/>
<path d="M377.9 132.5L381.1 132.5" stroke="#333" stroke-width="1.0" fill="none"/>
<path d="M377.9 127.1L381.1 127.1" stroke="#333" stroke-width="1.0" fill="none"/>
<path d="M377.9 116.3L381.1 116.3" stroke="#333" stroke-width="1.0" fill="none"/>
<path d="M377.9 110.9L381.1 110.9" stroke="#333" stroke-width="1.0" fill="none"/>
<path d="M377.9 105.5L381.1 105.5" stroke="#333" stroke-width="1.0" fill="none"/>
<path d="M377.9 100.1L381.1 100.1" stroke="#333" stroke-width="1.0" fill="none"/>
<path d="M377.9 89.2L381.1 89.2" stroke="#333" stroke-width="1.0" fill="none"/>
<path d="M377.9 83.8L381.1 83.8" stroke="#333" stroke-width="1.0" fill="none"/>
<path d="M377.9 78.4L381.1 78.4" stroke="#333" stroke-width="1.0" fill="none"/>
<path d="M377.9 73L381.1 73" stroke="#333" stroke-width="1.0" fill="none"/>
<path d="M377.9 62.2L381.1 62.2" stroke="#333" stroke-width="1.0" fill="none"/>
<path d="M377.9 56.8L381.1 56.8" stroke="#333" stroke-width="1.0" fill="none"/>
<path d="M377.9 51.4L381.1 51.4" stroke="#333" stroke-width="1.0" fill="none"/>
<path d="M377.9 46L381.1 46" stroke="#333" stroke-width="1.0" fill="none"/>
<path d="M377.9 35.1L381.1 35.1" stroke="#333" stroke-width="1.0" fill="none"/>
<path d="M377.9 29.7L381.1 29.7" stroke="#333" stroke-width="1.0" fill="none"/>
<path d="M377.9 24.3L381.1 24.3" stroke="#333" stroke-width="1.0" fill="none"/>
<path d="M377.9 18.9L381.1 18.9" stroke="#333" stroke-width="1.0" fill="none"/>
<path d="M377.9 13.5L384.2 13.5" stroke="#111" stroke-width="1.2" fill="none"/>
<text x="376.2" y="16.8" font-size="9.3" text-anchor="end">55</text>
<path d="M377.9 40.5L384.2 40.5" stroke="#111" stroke-width="1.2" fill="none"/>
<text x="376.2" y="43.8" font-size="9.3" text-anchor="end">50</text>
<path d="M377.9 67.6L384.2 67.6" stroke="#111" stroke-width="1.2" fill="none"/>
<text x="376.2" y="70.9" font-size="9.3" text-anchor="end">45</text>
<path d="M377.9 94.7L384.2 94.7" stroke="#111" stroke-width="1.2" fill="none"/>
<text x="376.2" y="98" font-size="9.3" text-anchor="end">40</text>
<path d="M377.9 121.7L384.2 121.7" stroke="#111" stroke-width="1.2" fill="none"/>
<text x="376.2" y="125" font-size="9.3" text-anchor="end">35</text>
<path d="M377.9 148.8L384.2 148.8" stroke="#111" stroke-width="1.2" fill="none"/>
<text x="376.2" y="152.1" font-size="9.3" text-anchor="end">30</text>
<path d="M377.9 175.8L384.2 175.8" stroke="#111" stroke-width="1.2" fill="none"/>
<text x="376.2" y="179.1" font-size="9.3" text-anchor="end">25</text>
<path d="M377.9 202.8L384.2 202.8" stroke="#111" stroke-width="1.2" fill="none"/>
<text x="376.2" y="206.2" font-size="9.3" text-anchor="end">20</text>
<path d="M377.9 229.9L384.2 229.9" stroke="#111" stroke-width="1.2" fill="none"/>
<text x="376.2" y="233.2" font-size="9.3" text-anchor="end">15</text>
<path d="M467.4 236.2L467.4 230.7" stroke="#222" stroke-width="1" fill="none"/>
<path d="M592.4 236.2L592.4 230.7" stroke="#222" stroke-width="1" fill="none"/>
<text x="469.6" y="247" font-size="9.1" text-anchor="middle">Study cohort</text>
<text x="593.4" y="247" font-size="9.1" text-anchor="middle">Total births 2015-2016</text>
</g>
<g id="panel-c">
<text x="2.6" y="272" font-size="16" text-anchor="start" font-weight="bold" class="b">c</text>
<text x="8.7" y="375.3" font-size="9.1" text-anchor="middle" transform="rotate(-90 8.7 375.3)">Birth weight [g]</text>
<path d="M247.4 317.6L247.4 357.4" stroke="#1a1a1a" stroke-width="0.9" fill="none"/>
<path d="M247.4 383.5L247.4 423" stroke="#1a1a1a" stroke-width="0.9" fill="none"/>
<path d="M225 317.6L269.8 317.6" stroke="#1a1a1a" stroke-width="1.1" fill="none"/>
<path d="M225 423L269.8 423" stroke="#1a1a1a" stroke-width="1.1" fill="none"/>
<rect x="201.5" y="357.4" width="91.4" height="26.1" fill="#fff" stroke="#1a1a1a" stroke-width="1.1"/>
<path d="M201.5 368.9L292.9 368.9" stroke="#1a1a1a" stroke-width="1.1" fill="none"/>
<path d="M126.2 337L126.2 358" stroke="#1a1a1a" stroke-width="0.9" fill="none"/>
<path d="M126.2 381.7L126.2 398.3" stroke="#1a1a1a" stroke-width="0.9" fill="none"/>
<path d="M103.8 337L148.7 337" stroke="#1a1a1a" stroke-width="1.1" fill="none"/>
<path d="M103.8 398.3L148.7 398.3" stroke="#1a1a1a" stroke-width="1.1" fill="none"/>
<rect x="80.3" y="358" width="91.4" height="23.7" fill="#fff" stroke="#1a1a1a" stroke-width="1.1"/>
<path d="M80.3 373L171.7 373" stroke="#1a1a1a" stroke-width="1.1" fill="none"/>
<g fill="#fff" stroke="#333" stroke-width="0.6">
<circle cx="128.3" cy="336.7" r="1.6"/><circle cx="124.2" cy="338" r="1.6"/><circle cx="128" cy="339.2" r="1.6"/><circle cx="123.7" cy="341.3" r="1.6"/><circle cx="126.2" cy="345.8" r="1.6"/><circle cx="126.2" cy="349.2" r="1.6"/><circle cx="126.2" cy="352.2" r="1.6"/><circle cx="122" cy="354.7" r="1.6"/><circle cx="130.3" cy="354.7" r="1.6"/><circle cx="120" cy="357" r="1.6"/><circle cx="124.2" cy="357" r="1.6"/><circle cx="128.3" cy="357" r="1.6"/><circle cx="132.5" cy="357" r="1.6"/><circle cx="135" cy="356.3" r="1.6"/><circle cx="117.5" cy="359.2" r="1.6"/><circle cx="123.7" cy="359.7" r="1.6"/><circle cx="128" cy="359.7" r="1.6"/><circle cx="132.5" cy="360" r="1.6"/><circle cx="119.2" cy="362" r="1.6"/><circle cx="130.3" cy="368.7" r="1.6"/><circle cx="122" cy="370.3" r="1.6"/><circle cx="126.2" cy="370.3" r="1.6"/><circle cx="134.7" cy="371.3" r="1.6"/><circle cx="139.7" cy="370.3" r="1.6"/><circle cx="113" cy="373" r="1.6"/><circle cx="117.2" cy="373" r="1.6"/><circle cx="120" cy="374.2" r="1.6"/><circle cx="124.2" cy="373.3" r="1.6"/><circle cx="128.3" cy="373.3" r="1.6"/><circle cx="132.5" cy="373.3" r="1.6"/><circle cx="137.2" cy="373.7" r="1.6"/><circle cx="115" cy="375.8" r="1.6"/><circle cx="126.2" cy="375.8" r="1.6"/><circle cx="128.3" cy="378" r="1.6"/><circle cx="124.2" cy="378.7" r="1.6"/><circle cx="130.3" cy="380" r="1.6"/><circle cx="122" cy="381.7" r="1.6"/><circle cx="126.2" cy="382.5" r="1.6"/><circle cx="130.3" cy="383.3" r="1.6"/><circle cx="123.7" cy="385" r="1.6"/><circle cx="128.3" cy="385.3" r="1.6"/><circle cx="133" cy="385" r="1.6"/><circle cx="119.2" cy="387" r="1.6"/><circle cx="126.2" cy="388" r="1.6"/><circle cx="126.2" cy="390.8" r="1.6"/><circle cx="122" cy="394.7" r="1.6"/><circle cx="130.3" cy="393.7" r="1.6"/><circle cx="126.2" cy="395" r="1.6"/><circle cx="126.2" cy="398.3" r="1.6"/><circle cx="125.3" cy="436.6" r="1.6"/>
</g>
<g fill="#fff" stroke="#111" stroke-width="0.75">
<circle cx="218.2" cy="322.4" r="1.6"/><circle cx="221.8" cy="322.4" r="1.6"/><circle cx="225.5" cy="322.4" r="1.6"/><circle cx="229.2" cy="322.4" r="1.6"/><circle cx="232.8" cy="322.4" r="1.6"/><circle cx="236.4" cy="322.4" r="1.6"/><circle cx="240.1" cy="322.4" r="1.6"/><circle cx="243.8" cy="322.4" r="1.6"/><circle cx="247.4" cy="322.4" r="1.6"/><circle cx="251.1" cy="322.4" r="1.6"/><circle cx="254.7" cy="322.4" r="1.6"/><circle cx="258.4" cy="322.4" r="1.6"/><circle cx="262" cy="322.4" r="1.6"/><circle cx="265.7" cy="322.4" r="1.6"/><circle cx="269.3" cy="322.4" r="1.6"/><circle cx="273" cy="322.4" r="1.6"/><circle cx="276.6" cy="322.4" r="1.6"/><circle cx="218.2" cy="326" r="1.6"/><circle cx="220.7" cy="326" r="1.6"/><circle cx="223.3" cy="326" r="1.6"/><circle cx="225.8" cy="326" r="1.6"/><circle cx="228.4" cy="326" r="1.6"/><circle cx="230.9" cy="326" r="1.6"/><circle cx="233.4" cy="326" r="1.6"/><circle cx="236" cy="326" r="1.6"/><circle cx="238.5" cy="326" r="1.6"/><circle cx="241.1" cy="326" r="1.6"/><circle cx="243.6" cy="326" r="1.6"/><circle cx="246.1" cy="326" r="1.6"/><circle cx="248.7" cy="326" r="1.6"/><circle cx="251.2" cy="326" r="1.6"/><circle cx="253.7" cy="326" r="1.6"/><circle cx="256.3" cy="326" r="1.6"/><circle cx="258.8" cy="326" r="1.6"/><circle cx="261.4" cy="326" r="1.6"/><circle cx="263.9" cy="326" r="1.6"/><circle cx="266.4" cy="326" r="1.6"/><circle cx="269" cy="326" r="1.6"/><circle cx="271.5" cy="326" r="1.6"/><circle cx="274.1" cy="326" r="1.6"/><circle cx="276.6" cy="326" r="1.6"/><circle cx="218.2" cy="329.2" r="1.6"/><circle cx="220.1" cy="329.2" r="1.6"/><circle cx="222.1" cy="329.2" r="1.6"/><circle cx="224" cy="329.2" r="1.6"/><circle cx="226" cy="329.2" r="1.6"/><circle cx="227.9" cy="329.2" r="1.6"/><circle cx="229.9" cy="329.2" r="1.6"/><circle cx="231.8" cy="329.2" r="1.6"/><circle cx="233.8" cy="329.2" r="1.6"/><circle cx="235.7" cy="329.2" r="1.6"/><circle cx="237.7" cy="329.2" r="1.6"/><circle cx="239.6" cy="329.2" r="1.6"/><circle cx="241.6" cy="329.2" r="1.6"/><circle cx="243.5" cy="329.2" r="1.6"/><circle cx="245.5" cy="329.2" r="1.6"/><circle cx="247.4" cy="329.2" r="1.6"/><circle cx="249.3" cy="329.2" r="1.6"/><circle cx="251.3" cy="329.2" r="1.6"/><circle cx="253.2" cy="329.2" r="1.6"/><circle cx="255.2" cy="329.2" r="1.6"/><circle cx="257.1" cy="329.2" r="1.6"/><circle cx="259.1" cy="329.2" r="1.6"/><circle cx="261" cy="329.2" r="1.6"/><circle cx="263" cy="329.2" r="1.6"/><circle cx="264.9" cy="329.2" r="1.6"/><circle cx="266.9" cy="329.2" r="1.6"/><circle cx="268.8" cy="329.2" r="1.6"/><circle cx="270.8" cy="329.2" r="1.6"/><circle cx="272.7" cy="329.2" r="1.6"/><circle cx="274.7" cy="329.2" r="1.6"/><circle cx="276.6" cy="329.2" r="1.6"/>
</g>
<g><rect x="216.3" y="331" width="62.1" height="3.8" fill="#c3c3c3"/><rect x="216.3" y="331" width="62.1" height="0.9" fill="#696969"/><rect x="216.3" y="332.9" width="62.1" height="3.8" fill="#b3b3b3"/><rect x="216.3" y="332.9" width="62.1" height="0.9" fill="#5d5d5d"/><rect x="216.3" y="334.8" width="62.1" height="3.8" fill="#a0a0a0"/><rect x="216.3" y="334.8" width="62.1" height="0.9" fill="#464646"/><rect x="216.3" y="336.7" width="62.1" height="3.8" fill="#8c8c8c"/><rect x="216.3" y="336.7" width="62.1" height="0.9" fill="#3b3b3b"/><rect x="216.3" y="338.6" width="62.1" height="3.8" fill="#7d7d7d"/><rect x="216.3" y="338.6" width="62.1" height="0.9" fill="#272727"/><rect x="216.3" y="340.5" width="62.1" height="3.8" fill="#616161"/><rect x="216.3" y="340.5" width="62.1" height="0.9" fill="#121212"/><rect x="216.3" y="342.4" width="62.1" height="2.6" fill="#484848"/><rect x="216.3" y="342.4" width="62.1" height="0.9" fill="#0f0f0f"/><rect x="216.3" y="344.3" width="62.1" height="0.7" fill="#1a1a1a"/><rect x="216.3" y="344.3" width="62.1" height="0.3" fill="#040404"/><rect x="216.3" y="344.3" width="36.4" height="0.8" fill="#0e0e0e"/></g>
<rect x="216.3" y="344.8" width="62.1" height="44.2" fill="#000"/>
<g><rect x="216.3" y="388.8" width="62.1" height="4.2" fill="#060606"/><rect x="216.3" y="388.8" width="62.1" height="0.9" fill="#000000"/><rect x="216.3" y="388.8" width="28.1" height="2.1" fill="#030303"/><rect x="216.3" y="390.9" width="62.1" height="4.2" fill="#191919"/><rect x="216.3" y="390.9" width="62.1" height="0.9" fill="#000000"/><rect x="216.3" y="390.9" width="28.8" height="2.1" fill="#0e0e0e"/><rect x="216.3" y="393" width="62.1" height="4.2" fill="#4d4d4d"/><rect x="216.3" y="393" width="62.1" height="0.9" fill="#020202"/><rect x="216.3" y="393" width="25.7" height="2.1" fill="#2a2a2a"/><rect x="216.3" y="395.1" width="62.1" height="4.2" fill="#525252"/><rect x="216.3" y="395.1" width="62.1" height="0.9" fill="#000000"/><rect x="216.3" y="397.2" width="62.1" height="4.2" fill="#7b7b7b"/><rect x="216.3" y="397.2" width="62.1" height="0.9" fill="#0c0c0c"/><rect x="216.3" y="399.3" width="62.1" height="4.2" fill="#707070"/><rect x="216.3" y="399.3" width="62.1" height="0.9" fill="#0f0f0f"/><rect x="216.3" y="401.4" width="62.1" height="4.2" fill="#878787"/><rect x="216.3" y="401.4" width="62.1" height="0.9" fill="#252525"/><rect x="235.6" y="401.4" width="42.8" height="2.1" fill="#4a4a4a"/><rect x="216.3" y="403.5" width="62.1" height="4.2" fill="#9f9f9f"/><rect x="216.3" y="403.5" width="62.1" height="0.9" fill="#252525"/><rect x="216.3" y="405.6" width="62.1" height="4.2" fill="#9e9e9e"/><rect x="216.3" y="405.6" width="62.1" height="0.9" fill="#383838"/><rect x="216.3" y="407.7" width="62.1" height="4.2" fill="#c8c8c8"/><rect x="216.3" y="407.7" width="62.1" height="0.9" fill="#474747"/><rect x="216.3" y="409.8" width="62.1" height="4.2" fill="#c3c3c3"/><rect x="216.3" y="409.8" width="62.1" height="0.9" fill="#4b4b4b"/><rect x="216.3" y="411.9" width="62.1" height="2.3" fill="#d3d3d3"/><rect x="216.3" y="411.9" width="62.1" height="0.9" fill="#626262"/><rect x="216.3" y="414" width="62.1" height="0.2" fill="#cecece"/><rect x="216.3" y="414" width="62.1" height="0.1" fill="#696969"/></g>
<g fill="#fff" stroke="#333" stroke-width="0.6">
<circle cx="276.9" cy="333" r="1.6"/><circle cx="276.9" cy="335.3" r="1.6"/><circle cx="276.9" cy="337.6" r="1.6"/><circle cx="276.9" cy="339.9" r="1.6"/><circle cx="276.9" cy="342.2" r="1.6"/><circle cx="276.9" cy="344.5" r="1.6"/><circle cx="276.9" cy="346.8" r="1.6"/><circle cx="276.9" cy="349.1" r="1.6"/><circle cx="276.9" cy="351.4" r="1.6"/><circle cx="276.9" cy="353.7" r="1.6"/><circle cx="276.9" cy="356" r="1.6"/><circle cx="276.9" cy="358.3" r="1.6"/><circle cx="276.9" cy="360.6" r="1.6"/><circle cx="276.9" cy="362.9" r="1.6"/><circle cx="276.9" cy="365.2" r="1.6"/><circle cx="276.9" cy="367.5" r="1.6"/><circle cx="276.9" cy="369.8" r="1.6"/><circle cx="276.9" cy="372.1" r="1.6"/><circle cx="276.9" cy="374.4" r="1.6"/><circle cx="276.9" cy="376.7" r="1.6"/><circle cx="276.9" cy="379" r="1.6"/><circle cx="276.9" cy="381.3" r="1.6"/><circle cx="276.9" cy="383.6" r="1.6"/><circle cx="276.9" cy="385.9" r="1.6"/><circle cx="276.9" cy="388.2" r="1.6"/><circle cx="276.9" cy="390.5" r="1.6"/><circle cx="276.9" cy="392.8" r="1.6"/><circle cx="276.9" cy="395.1" r="1.6"/><circle cx="276.9" cy="397.4" r="1.6"/><circle cx="276.9" cy="399.7" r="1.6"/><circle cx="276.9" cy="402" r="1.6"/><circle cx="276.9" cy="404.3" r="1.6"/><circle cx="276.9" cy="406.6" r="1.6"/><circle cx="276.9" cy="408.9" r="1.6"/><circle cx="276.9" cy="411.2" r="1.6"/><circle cx="276.9" cy="413.5" r="1.6"/>
</g>
<g fill="#fff" stroke="#3a3a3a" stroke-width="0.55">
<circle cx="218.2" cy="415.4" r="1.6"/><circle cx="221" cy="415.4" r="1.6"/><circle cx="223.8" cy="415.4" r="1.6"/><circle cx="226.5" cy="415.4" r="1.6"/><circle cx="229.3" cy="415.4" r="1.6"/><circle cx="232.1" cy="415.4" r="1.6"/><circle cx="234.9" cy="415.4" r="1.6"/><circle cx="237.7" cy="415.4" r="1.6"/><circle cx="240.4" cy="415.4" r="1.6"/><circle cx="243.2" cy="415.4" r="1.6"/><circle cx="246" cy="415.4" r="1.6"/><circle cx="248.8" cy="415.4" r="1.6"/><circle cx="251.6" cy="415.4" r="1.6"/><circle cx="254.4" cy="415.4" r="1.6"/><circle cx="257.1" cy="415.4" r="1.6"/><circle cx="259.9" cy="415.4" r="1.6"/><circle cx="262.7" cy="415.4" r="1.6"/><circle cx="265.5" cy="415.4" r="1.6"/><circle cx="268.3" cy="415.4" r="1.6"/><circle cx="271" cy="415.4" r="1.6"/><circle cx="273.8" cy="415.4" r="1.6"/><circle cx="276.6" cy="415.4" r="1.6"/><circle cx="218.2" cy="418" r="1.6"/><circle cx="221" cy="418" r="1.6"/><circle cx="223.8" cy="418" r="1.6"/><circle cx="226.5" cy="418" r="1.6"/><circle cx="229.3" cy="418" r="1.6"/><circle cx="232.1" cy="418" r="1.6"/><circle cx="234.9" cy="418" r="1.6"/><circle cx="237.7" cy="418" r="1.6"/><circle cx="240.4" cy="418" r="1.6"/><circle cx="243.2" cy="418" r="1.6"/><circle cx="246" cy="418" r="1.6"/><circle cx="248.8" cy="418" r="1.6"/><circle cx="251.6" cy="418" r="1.6"/><circle cx="254.4" cy="418" r="1.6"/><circle cx="257.1" cy="418" r="1.6"/><circle cx="259.9" cy="418" r="1.6"/><circle cx="262.7" cy="418" r="1.6"/><circle cx="265.5" cy="418" r="1.6"/><circle cx="268.3" cy="418" r="1.6"/><circle cx="271" cy="418" r="1.6"/><circle cx="273.8" cy="418" r="1.6"/><circle cx="276.6" cy="418" r="1.6"/><circle cx="218.2" cy="420.6" r="1.6"/><circle cx="221.1" cy="420.6" r="1.6"/><circle cx="224" cy="420.6" r="1.6"/><circle cx="227" cy="420.6" r="1.6"/><circle cx="229.9" cy="420.6" r="1.6"/><circle cx="232.8" cy="420.6" r="1.6"/><circle cx="235.7" cy="420.6" r="1.6"/><circle cx="238.6" cy="420.6" r="1.6"/><circle cx="241.6" cy="420.6" r="1.6"/><circle cx="244.5" cy="420.6" r="1.6"/><circle cx="247.4" cy="420.6" r="1.6"/><circle cx="250.3" cy="420.6" r="1.6"/><circle cx="253.2" cy="420.6" r="1.6"/><circle cx="256.2" cy="420.6" r="1.6"/><circle cx="259.1" cy="420.6" r="1.6"/><circle cx="262" cy="420.6" r="1.6"/><circle cx="264.9" cy="420.6" r="1.6"/><circle cx="267.8" cy="420.6" r="1.6"/><circle cx="270.8" cy="420.6" r="1.6"/><circle cx="273.7" cy="420.6" r="1.6"/><circle cx="276.6" cy="420.6" r="1.6"/><circle cx="218.2" cy="423.2" r="1.6"/><circle cx="221.3" cy="423.2" r="1.6"/><circle cx="224.3" cy="423.2" r="1.6"/><circle cx="227.4" cy="423.2" r="1.6"/><circle cx="230.5" cy="423.2" r="1.6"/><circle cx="233.6" cy="423.2" r="1.6"/><circle cx="236.6" cy="423.2" r="1.6"/><circle cx="239.7" cy="423.2" r="1.6"/><circle cx="242.8" cy="423.2" r="1.6"/><circle cx="245.9" cy="423.2" r="1.6"/><circle cx="248.9" cy="423.2" r="1.6"/><circle cx="252" cy="423.2" r="1.6"/><circle cx="255.1" cy="423.2" r="1.6"/><circle cx="258.2" cy="423.2" r="1.6"/><circle cx="261.2" cy="423.2" r="1.6"/><circle cx="264.3" cy="423.2" r="1.6"/><circle cx="267.4" cy="423.2" r="1.6"/><circle cx="270.5" cy="423.2" r="1.6"/><circle cx="273.5" cy="423.2" r="1.6"/><circle cx="276.6" cy="423.2" r="1.6"/><circle cx="218.2" cy="425.8" r="1.6"/><circle cx="221.4" cy="425.8" r="1.6"/><circle cx="224.7" cy="425.8" r="1.6"/><circle cx="227.9" cy="425.8" r="1.6"/><circle cx="231.2" cy="425.8" r="1.6"/><circle cx="234.4" cy="425.8" r="1.6"/><circle cx="237.7" cy="425.8" r="1.6"/><circle cx="240.9" cy="425.8" r="1.6"/><circle cx="244.2" cy="425.8" r="1.6"/><circle cx="247.4" cy="425.8" r="1.6"/><circle cx="250.6" cy="425.8" r="1.6"/><circle cx="253.9" cy="425.8" r="1.6"/><circle cx="257.1" cy="425.8" r="1.6"/><circle cx="260.4" cy="425.8" r="1.6"/><circle cx="263.6" cy="425.8" r="1.6"/><circle cx="266.9" cy="425.8" r="1.6"/><circle cx="270.1" cy="425.8" r="1.6"/><circle cx="273.4" cy="425.8" r="1.6"/><circle cx="276.6" cy="425.8" r="1.6"/><circle cx="218.2" cy="428.4" r="1.6"/><circle cx="221.6" cy="428.4" r="1.6"/><circle cx="225.1" cy="428.4" r="1.6"/><circle cx="228.5" cy="428.4" r="1.6"/><circle cx="231.9" cy="428.4" r="1.6"/><circle cx="235.4" cy="428.4" r="1.6"/><circle cx="238.8" cy="428.4" r="1.6"/><circle cx="242.2" cy="428.4" r="1.6"/><circle cx="245.7" cy="428.4" r="1.6"/><circle cx="249.1" cy="428.4" r="1.6"/><circle cx="252.6" cy="428.4" r="1.6"/><circle cx="256" cy="428.4" r="1.6"/><circle cx="259.4" cy="428.4" r="1.6"/><circle cx="262.9" cy="428.4" r="1.6"/><circle cx="266.3" cy="428.4" r="1.6"/><circle cx="269.7" cy="428.4" r="1.6"/><circle cx="273.2" cy="428.4" r="1.6"/><circle cx="276.6" cy="428.4" r="1.6"/><circle cx="218.2" cy="431" r="1.6"/><circle cx="221.6" cy="431" r="1.6"/><circle cx="225.1" cy="431" r="1.6"/><circle cx="228.5" cy="431" r="1.6"/><circle cx="231.9" cy="431" r="1.6"/><circle cx="235.4" cy="431" r="1.6"/><circle cx="238.8" cy="431" r="1.6"/><circle cx="242.2" cy="431" r="1.6"/><circle cx="245.7" cy="431" r="1.6"/><circle cx="249.1" cy="431" r="1.6"/><circle cx="252.6" cy="431" r="1.6"/><circle cx="256" cy="431" r="1.6"/><circle cx="259.4" cy="431" r="1.6"/><circle cx="262.9" cy="431" r="1.6"/><circle cx="266.3" cy="431" r="1.6"/><circle cx="269.7" cy="431" r="1.6"/><circle cx="273.2" cy="431" r="1.6"/><circle cx="276.6" cy="431" r="1.6"/><circle cx="218.2" cy="433.6" r="1.6"/><circle cx="221.8" cy="433.6" r="1.6"/><circle cx="225.5" cy="433.6" r="1.6"/><circle cx="229.2" cy="433.6" r="1.6"/><circle cx="232.8" cy="433.6" r="1.6"/><circle cx="236.4" cy="433.6" r="1.6"/><circle cx="240.1" cy="433.6" r="1.6"/><circle cx="243.8" cy="433.6" r="1.6"/><circle cx="247.4" cy="433.6" r="1.6"/><circle cx="251.1" cy="433.6" r="1.6"/><circle cx="254.7" cy="433.6" r="1.6"/><circle cx="258.4" cy="433.6" r="1.6"/><circle cx="262" cy="433.6" r="1.6"/><circle cx="265.7" cy="433.6" r="1.6"/><circle cx="269.3" cy="433.6" r="1.6"/><circle cx="273" cy="433.6" r="1.6"/><circle cx="276.6" cy="433.6" r="1.6"/><circle cx="218.2" cy="436.2" r="1.6"/><circle cx="221.8" cy="436.2" r="1.6"/><circle cx="225.5" cy="436.2" r="1.6"/><circle cx="229.2" cy="436.2" r="1.6"/><circle cx="232.8" cy="436.2" r="1.6"/><circle cx="236.4" cy="436.2" r="1.6"/><circle cx="240.1" cy="436.2" r="1.6"/><circle cx="243.8" cy="436.2" r="1.6"/><circle cx="247.4" cy="436.2" r="1.6"/><circle cx="251.1" cy="436.2" r="1.6"/><circle cx="254.7" cy="436.2" r="1.6"/><circle cx="258.4" cy="436.2" r="1.6"/><circle cx="262" cy="436.2" r="1.6"/><circle cx="265.7" cy="436.2" r="1.6"/><circle cx="269.3" cy="436.2" r="1.6"/><circle cx="273" cy="436.2" r="1.6"/><circle cx="276.6" cy="436.2" r="1.6"/><circle cx="218.9" cy="438.8" r="1.6"/><circle cx="222.7" cy="438.8" r="1.6"/><circle cx="226.5" cy="438.8" r="1.6"/><circle cx="230.3" cy="438.8" r="1.6"/><circle cx="234.1" cy="438.8" r="1.6"/><circle cx="237.9" cy="438.8" r="1.6"/><circle cx="241.7" cy="438.8" r="1.6"/><circle cx="245.5" cy="438.8" r="1.6"/><circle cx="249.3" cy="438.8" r="1.6"/><circle cx="253.1" cy="438.8" r="1.6"/><circle cx="256.9" cy="438.8" r="1.6"/><circle cx="260.7" cy="438.8" r="1.6"/><circle cx="264.5" cy="438.8" r="1.6"/><circle cx="268.3" cy="438.8" r="1.6"/><circle cx="272.1" cy="438.8" r="1.6"/><circle cx="275.9" cy="438.8" r="1.6"/><circle cx="222.7" cy="441.4" r="1.6"/><circle cx="226.5" cy="441.4" r="1.6"/><circle cx="230.3" cy="441.4" r="1.6"/><circle cx="234.1" cy="441.4" r="1.6"/><circle cx="237.9" cy="441.4" r="1.6"/><circle cx="241.7" cy="441.4" r="1.6"/><circle cx="245.5" cy="441.4" r="1.6"/><circle cx="249.3" cy="441.4" r="1.6"/><circle cx="253.1" cy="441.4" r="1.6"/><circle cx="256.9" cy="441.4" r="1.6"/><circle cx="260.7" cy="441.4" r="1.6"/><circle cx="264.5" cy="441.4" r="1.6"/><circle cx="268.3" cy="441.4" r="1.6"/><circle cx="272.1" cy="441.4" r="1.6"/><circle cx="226.5" cy="444" r="1.6"/><circle cx="230.3" cy="444" r="1.6"/><circle cx="234.1" cy="444" r="1.6"/><circle cx="237.9" cy="444" r="1.6"/><circle cx="241.7" cy="444" r="1.6"/><circle cx="245.5" cy="444" r="1.6"/><circle cx="249.3" cy="444" r="1.6"/><circle cx="253.1" cy="444" r="1.6"/><circle cx="256.9" cy="444" r="1.6"/><circle cx="260.7" cy="444" r="1.6"/><circle cx="264.5" cy="444" r="1.6"/><circle cx="268.3" cy="444" r="1.6"/><circle cx="230.3" cy="446.6" r="1.6"/><circle cx="234.1" cy="446.6" r="1.6"/><circle cx="237.9" cy="446.6" r="1.6"/><circle cx="241.7" cy="446.6" r="1.6"/><circle cx="245.5" cy="446.6" r="1.6"/><circle cx="249.3" cy="446.6" r="1.6"/><circle cx="253.1" cy="446.6" r="1.6"/><circle cx="256.9" cy="446.6" r="1.6"/><circle cx="260.7" cy="446.6" r="1.6"/><circle cx="264.5" cy="446.6" r="1.6"/><circle cx="232.2" cy="449.2" r="1.6"/><circle cx="236" cy="449.2" r="1.6"/><circle cx="239.8" cy="449.2" r="1.6"/><circle cx="243.6" cy="449.2" r="1.6"/><circle cx="247.4" cy="449.2" r="1.6"/><circle cx="251.2" cy="449.2" r="1.6"/><circle cx="255" cy="449.2" r="1.6"/><circle cx="258.8" cy="449.2" r="1.6"/><circle cx="262.6" cy="449.2" r="1.6"/><circle cx="230.3" cy="451.8" r="1.6"/><circle cx="234.1" cy="451.8" r="1.6"/><circle cx="237.9" cy="451.8" r="1.6"/><circle cx="241.7" cy="451.8" r="1.6"/><circle cx="245.5" cy="451.8" r="1.6"/><circle cx="249.3" cy="451.8" r="1.6"/><circle cx="253.1" cy="451.8" r="1.6"/><circle cx="256.9" cy="451.8" r="1.6"/><circle cx="260.7" cy="451.8" r="1.6"/><circle cx="264.5" cy="451.8" r="1.6"/><circle cx="230.3" cy="454.4" r="1.6"/><circle cx="234.1" cy="454.4" r="1.6"/><circle cx="237.9" cy="454.4" r="1.6"/><circle cx="241.7" cy="454.4" r="1.6"/><circle cx="245.5" cy="454.4" r="1.6"/><circle cx="249.3" cy="454.4" r="1.6"/><circle cx="253.1" cy="454.4" r="1.6"/><circle cx="256.9" cy="454.4" r="1.6"/><circle cx="260.7" cy="454.4" r="1.6"/><circle cx="264.5" cy="454.4" r="1.6"/><circle cx="232.2" cy="457" r="1.6"/><circle cx="236" cy="457" r="1.6"/><circle cx="239.8" cy="457" r="1.6"/><circle cx="243.6" cy="457" r="1.6"/><circle cx="247.4" cy="457" r="1.6"/><circle cx="251.2" cy="457" r="1.6"/><circle cx="255" cy="457" r="1.6"/><circle cx="258.8" cy="457" r="1.6"/><circle cx="262.6" cy="457" r="1.6"/><circle cx="236" cy="459.4" r="1.6"/><circle cx="239.8" cy="459.4" r="1.6"/><circle cx="243.6" cy="459.4" r="1.6"/><circle cx="247.4" cy="459.4" r="1.6"/><circle cx="251.2" cy="459.4" r="1.6"/><circle cx="255" cy="459.4" r="1.6"/><circle cx="258.8" cy="459.4" r="1.6"/><circle cx="241.7" cy="461.6" r="1.6"/><circle cx="245.5" cy="461.6" r="1.6"/><circle cx="249.3" cy="461.6" r="1.6"/><circle cx="253.1" cy="461.6" r="1.6"/>
</g>
<g fill="#fff" stroke="#333" stroke-width="0.6">
<circle cx="247" cy="288.9" r="1.6"/><circle cx="247.3" cy="303.6" r="1.6"/><circle cx="252" cy="304.7" r="1.6"/><circle cx="242.6" cy="307.1" r="1.6"/><circle cx="246.5" cy="307.6" r="1.6"/><circle cx="245" cy="310.4" r="1.6"/><circle cx="249.7" cy="309.6" r="1.6"/><circle cx="238.3" cy="314.6" r="1.6"/><circle cx="242.6" cy="313.8" r="1.6"/><circle cx="247.3" cy="313.8" r="1.6"/><circle cx="251.6" cy="313.8" r="1.6"/><circle cx="256" cy="313.4" r="1.6"/><circle cx="236" cy="317.3" r="1.6"/><circle cx="239.9" cy="318.5" r="1.6"/><circle cx="243.8" cy="317.3" r="1.6"/><circle cx="247.7" cy="318.5" r="1.6"/><circle cx="251.6" cy="317.3" r="1.6"/><circle cx="255.5" cy="318.5" r="1.6"/><circle cx="259.4" cy="317.3" r="1.6"/><circle cx="263.3" cy="318.5" r="1.6"/>
</g>
<path d="M219.2 462.8h5l-2.5 4.8zM223.6 462.8h5l-2.5 4.8zM227.8 462.8h5l-2.5 4.8zM232.2 462.8h5l-2.5 4.8zM236.4 462.8h5l-2.5 4.8zM240.8 462.8h5l-2.5 4.8zM245.1 462.8h5l-2.5 4.8zM249.3 462.8h5l-2.5 4.8zM253.6 462.8h5l-2.5 4.8zM257.9 462.8h5l-2.5 4.8zM262.2 462.8h5l-2.5 4.8zM266.6 462.8h5l-2.5 4.8zM270.9 462.8h5l-2.5 4.8zM225.3 465.3h5l-2.5 4.8zM229.6 465.3h5l-2.5 4.8zM233.9 465.3h5l-2.5 4.8zM238.2 465.3h5l-2.5 4.8zM242.5 465.3h5l-2.5 4.8zM246.8 465.3h5l-2.5 4.8zM251.1 465.3h5l-2.5 4.8zM255.4 465.3h5l-2.5 4.8zM259.7 465.3h5l-2.5 4.8zM229.7 467.9h5l-2.5 4.8zM234 467.9h5l-2.5 4.8zM238.3 467.9h5l-2.5 4.8zM242.6 467.9h5l-2.5 4.8zM246.9 467.9h5l-2.5 4.8zM251.2 467.9h5l-2.5 4.8zM255.5 467.9h5l-2.5 4.8zM259.8 467.9h5l-2.5 4.8zM231.5 470.5h5l-2.5 4.8zM235.8 470.5h5l-2.5 4.8zM240.1 470.5h5l-2.5 4.8zM244.4 470.5h5l-2.5 4.8zM248.7 470.5h5l-2.5 4.8zM253 470.5h5l-2.5 4.8zM257.3 470.5h5l-2.5 4.8zM236 473.1h5l-2.5 4.8zM240.3 473.1h5l-2.5 4.8zM244.6 473.1h5l-2.5 4.8zM248.9 473.1h5l-2.5 4.8zM253.2 473.1h5l-2.5 4.8zM239.1 460.8h5l-2.5 4.8zM243.5 460.4h5l-2.5 4.8zM247.9 460.8h5l-2.5 4.8z" fill="#000"/>
<path d="M125.8 286.4V278.5H248.2V286.4" fill="none" stroke="#3a3a3a" stroke-width="0.9"/>
<text x="186.6" y="274.3" font-size="9.4" text-anchor="middle">p = 0,92</text>
<rect x="39.2" y="265.6" width="295.2" height="228.75" fill="none" stroke="#7a7a7a" stroke-width="1.25"/>
<path d="M39.2 470L42.4 470" stroke="#333" stroke-width="1.0" fill="none"/>
<path d="M39.2 434L42.4 434" stroke="#333" stroke-width="1.0" fill="none"/>
<path d="M39.2 398L42.4 398" stroke="#333" stroke-width="1.0" fill="none"/>
<path d="M39.2 362L42.4 362" stroke="#333" stroke-width="1.0" fill="none"/>
<path d="M39.2 326L42.4 326" stroke="#333" stroke-width="1.0" fill="none"/>
<path d="M39.2 290L42.4 290" stroke="#333" stroke-width="1.0" fill="none"/>
<path d="M39.2 272L45.5 272" stroke="#111" stroke-width="1.2" fill="none"/>
<text x="36.7" y="273.7" font-size="9.3" text-anchor="end">6000</text>
<path d="M39.2 308L45.5 308" stroke="#111" stroke-width="1.2" fill="none"/>
<text x="36.7" y="309.7" font-size="9.3" text-anchor="end">5000</text>
<path d="M39.2 344L45.5 344" stroke="#111" stroke-width="1.2" fill="none"/>
<text x="36.7" y="345.7" font-size="9.3" text-anchor="end">4000</text>
<path d="M39.2 380L45.5 380" stroke="#111" stroke-width="1.2" fill="none"/>
<text x="36.7" y="381.7" font-size="9.3" text-anchor="end">3000</text>
<path d="M39.2 416L45.5 416" stroke="#111" stroke-width="1.2" fill="none"/>
<text x="36.7" y="417.7" font-size="9.3" text-anchor="end">2000</text>
<path d="M39.2 452L45.5 452" stroke="#111" stroke-width="1.2" fill="none"/>
<text x="36.7" y="453.7" font-size="9.3" text-anchor="end">1000</text>
<path d="M39.2 488L45.5 488" stroke="#111" stroke-width="1.2" fill="none"/>
<text x="36.7" y="489.7" font-size="9.3" text-anchor="end">0</text>
<path d="M126.2 494.4L126.2 488.9" stroke="#222" stroke-width="1" fill="none"/>
<path d="M247.4 494.4L247.4 488.9" stroke="#222" stroke-width="1" fill="none"/>
<text x="128.2" y="505.3" font-size="9.1" text-anchor="middle">Study cohort</text>
<text x="250.2" y="505.3" font-size="9.1" text-anchor="middle">Total births 2015-2016</text>
</g>
</svg></body></html>
